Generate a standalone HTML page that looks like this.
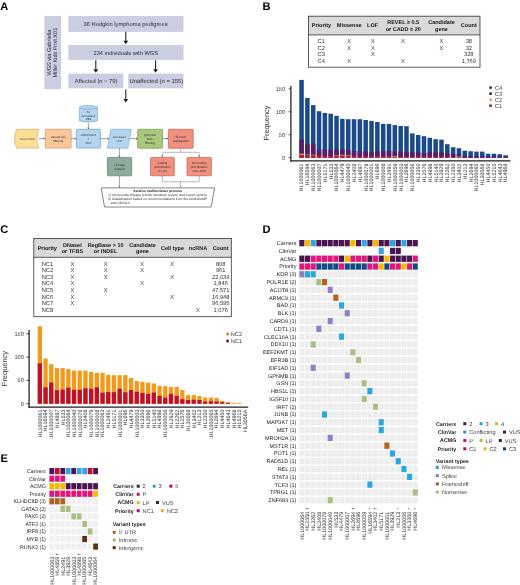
<!DOCTYPE html>
<html><head><meta charset="utf-8"><style>
html,body{margin:0;padding:0;background:#fff;}
body{width:520px;height:585px;overflow:hidden;}
svg{display:block;will-change:transform;font-family:"Liberation Sans", sans-serif;text-rendering:geometricPrecision;}
</style></head><body>
<svg width="520" height="585" viewBox="0 0 520 585">
<rect width="520" height="585" fill="#fff"/>
<text x="0.20" y="9.60" font-size="11.1" text-anchor="start" font-weight="bold" fill="#000">A</text>
<text x="262.40" y="9.80" font-size="11.1" text-anchor="start" font-weight="bold" fill="#000">B</text>
<text x="0.30" y="232.80" font-size="11.1" text-anchor="start" font-weight="bold" fill="#000">C</text>
<text x="262.60" y="232.80" font-size="11.1" text-anchor="start" font-weight="bold" fill="#000">D</text>
<text x="0.50" y="461.90" font-size="11.1" text-anchor="start" font-weight="bold" fill="#000">E</text>
<rect x="44.30" y="16.00" width="16.70" height="73.20" fill="#cbcde1"/>
<rect x="68.30" y="16.00" width="115.20" height="15.90" fill="#cbcde1"/>
<rect x="68.30" y="45.00" width="115.20" height="14.90" fill="#cbcde1"/>
<rect x="68.30" y="73.60" width="55.00" height="14.70" fill="#cbcde1"/>
<rect x="128.30" y="73.60" width="55.20" height="14.70" fill="#cbcde1"/>
<text x="125.60" y="25.90" font-size="5.75" text-anchor="middle" fill="#2a2a35">36 Hodgkin lymphoma pedigrees</text>
<text x="125.80" y="54.50" font-size="5.7" text-anchor="middle" fill="#2a2a35">234 individuals with WGS</text>
<text x="96.10" y="83.20" font-size="5.75" text-anchor="middle" fill="#2a2a35">Affected (n = 79)</text>
<text x="156.40" y="83.20" font-size="5.9" text-anchor="middle" fill="#2a2a35">Unaffected (n = 155)</text>
<text x="50.90" y="52.60" font-size="5.6" text-anchor="middle" fill="#2a2a35" transform="rotate(-90 50.9 52.6)">WGS via Gabriella</text>
<text x="56.60" y="52.60" font-size="5.6" text-anchor="middle" fill="#2a2a35" transform="rotate(-90 56.6 52.6)">Miller Kids First X01</text>
<line x1="125.80" y1="31.80" x2="125.80" y2="41.00" stroke="#1a1a1a" stroke-width="1.05"/>
<path d="M123.45 40.70 L128.15 40.70 L125.80 44.30 Z" fill="#1a1a1a"/>
<line x1="95.80" y1="60.20" x2="95.80" y2="69.50" stroke="#1a1a1a" stroke-width="1.05"/>
<path d="M93.45 69.20 L98.15 69.20 L95.80 72.80 Z" fill="#1a1a1a"/>
<line x1="155.60" y1="60.20" x2="155.60" y2="69.50" stroke="#1a1a1a" stroke-width="1.05"/>
<path d="M153.25 69.20 L157.95 69.20 L155.60 72.80 Z" fill="#1a1a1a"/>
<line x1="125.80" y1="89.60" x2="125.80" y2="99.30" stroke="#1a1a1a" stroke-width="1.05"/>
<path d="M123.45 99.00 L128.15 99.00 L125.80 102.60 Z" fill="#1a1a1a"/>
<path d="M16.6 129.3 L38.8 129.3 Q34.9 138.7 38.8 148.1 L16.6 148.1 Q12.4 138.7 16.6 129.3 Z" fill="#fcdf95" stroke="#b99a5a" stroke-width="0.55"/>
<text x="27.40" y="139.70" font-size="2.9" text-anchor="middle" fill="#3a3a3a">Cohort VCF</text>
<rect x="45.30" y="129.30" width="25.80" height="18.80" fill="#fbc899" stroke="#d5925a" stroke-width="0.7" rx="0.8"/>
<text x="58.20" y="137.85" font-size="3.1" text-anchor="middle" fill="#333">Variant QC</text>
<text x="58.20" y="141.72" font-size="3.1" text-anchor="middle" fill="#333">filtering</text>
<rect x="76.40" y="129.30" width="24.00" height="18.80" fill="#b4d4ef" stroke="#6e9cc6" stroke-width="0.7" rx="0.8"/>
<text x="88.40" y="135.91" font-size="3.1" text-anchor="middle" fill="#333">ANNOVAR</text>
<text x="88.40" y="139.78" font-size="3.1" text-anchor="middle" fill="#333">+</text>
<text x="88.40" y="143.66" font-size="3.1" text-anchor="middle" fill="#333">VEP</text>
<path d="M79.3 107.3 L79.3 120.8 Q88.4 123.8 97.5 120.8 L97.5 107.3" fill="#b4d4ef" stroke="#6e9cc6" stroke-width="0.55"/>
<ellipse cx="88.4" cy="107.3" rx="9.1" ry="1.9" fill="#b4d4ef" stroke="#6e9cc6" stroke-width="0.55"/>
<text x="88.40" y="112.90" font-size="2.9" text-anchor="middle" fill="#3a3a3a">52</text>
<text x="88.40" y="116.50" font-size="2.9" text-anchor="middle" fill="#3a3a3a">Annotation</text>
<text x="88.40" y="120.10" font-size="2.9" text-anchor="middle" fill="#3a3a3a">DBs</text>
<path d="M110.8 129.3 L131.3 129.3 L127.9 148.3 L107.4 148.3 Z" fill="#b4d4ef" stroke="#6e9cc6" stroke-width="0.55"/>
<text x="119.40" y="137.90" font-size="2.9" text-anchor="middle" fill="#3a3a3a">Annotated</text>
<text x="119.40" y="141.60" font-size="2.9" text-anchor="middle" fill="#3a3a3a">VCF</text>
<rect x="137.60" y="129.30" width="24.90" height="19.00" fill="#a9c77d" stroke="#789a4f" stroke-width="0.7" rx="0.8"/>
<text x="150.05" y="136.01" font-size="3.1" text-anchor="middle" fill="#333">gnomAD</text>
<text x="150.05" y="139.89" font-size="3.1" text-anchor="middle" fill="#333">MAF</text>
<text x="150.05" y="143.76" font-size="3.1" text-anchor="middle" fill="#333">filtering</text>
<rect x="168.40" y="129.30" width="24.80" height="19.00" fill="#f1907f" stroke="#c2604f" stroke-width="0.7" rx="0.8"/>
<text x="180.80" y="137.95" font-size="3.1" text-anchor="middle" fill="#333">SLIVAR</text>
<text x="180.80" y="141.82" font-size="3.1" text-anchor="middle" fill="#333">segregation</text>
<rect x="107.40" y="157.40" width="24.30" height="18.40" fill="#8eac9b" stroke="#5f7d6b" stroke-width="0.7" rx="0.8"/>
<text x="119.55" y="165.75" font-size="3.1" text-anchor="middle" fill="#2f3f35">Linkage</text>
<text x="119.55" y="169.62" font-size="3.1" text-anchor="middle" fill="#2f3f35">analysis</text>
<rect x="150.50" y="157.40" width="23.80" height="18.40" fill="#f1907f" stroke="#c2604f" stroke-width="0.7" rx="0.8"/>
<text x="162.40" y="163.81" font-size="3.1" text-anchor="middle" fill="#333">Coding</text>
<text x="162.40" y="167.69" font-size="3.1" text-anchor="middle" fill="#333">prioritization</text>
<text x="162.40" y="171.56" font-size="3.1" text-anchor="middle" fill="#333">C1-C4</text>
<rect x="187.00" y="157.40" width="24.40" height="18.40" fill="#f1907f" stroke="#c2604f" stroke-width="0.7" rx="0.8"/>
<text x="199.20" y="163.81" font-size="3.1" text-anchor="middle" fill="#333">Noncoding</text>
<text x="199.20" y="167.69" font-size="3.1" text-anchor="middle" fill="#333">prioritization</text>
<text x="199.20" y="171.56" font-size="3.1" text-anchor="middle" fill="#333">NC1-NC8</text>
<line x1="38.60" y1="138.70" x2="43.90" y2="138.70" stroke="#505060" stroke-width="0.6"/>
<path d="M43.70 137.60 L43.70 139.80 L45.30 138.70 Z" fill="#505060"/>
<line x1="71.10" y1="138.70" x2="75.00" y2="138.70" stroke="#505060" stroke-width="0.6"/>
<path d="M74.80 137.60 L74.80 139.80 L76.40 138.70 Z" fill="#505060"/>
<line x1="100.40" y1="138.70" x2="107.60" y2="138.70" stroke="#505060" stroke-width="0.6"/>
<path d="M107.40 137.60 L107.40 139.80 L109.00 138.70 Z" fill="#505060"/>
<line x1="129.60" y1="138.70" x2="136.20" y2="138.70" stroke="#505060" stroke-width="0.6"/>
<path d="M136.00 137.60 L136.00 139.80 L137.60 138.70 Z" fill="#505060"/>
<line x1="162.50" y1="138.70" x2="167.00" y2="138.70" stroke="#505060" stroke-width="0.6"/>
<path d="M166.80 137.60 L166.80 139.80 L168.40 138.70 Z" fill="#505060"/>
<line x1="88.40" y1="123.00" x2="88.40" y2="127.90" stroke="#505060" stroke-width="0.55"/>
<path d="M87.40 127.70 L89.40 127.70 L88.40 129.30 Z" fill="#505060"/>
<line x1="119.40" y1="148.30" x2="119.40" y2="156.00" stroke="#505060" stroke-width="0.55"/>
<path d="M118.40 155.80 L120.40 155.80 L119.40 157.40 Z" fill="#505060"/>
<line x1="180.80" y1="148.30" x2="180.80" y2="152.30" stroke="#7a7a90" stroke-width="0.55"/>
<path d="M162.3 157.2 L162.3 153.3 Q162.3 152.3 163.3 152.3 L198.2 152.3 Q199.2 152.3 199.2 153.3 L199.2 157.2" fill="none" stroke="#7a7a90" stroke-width="0.55"/>
<path d="M161.3 155.6 L163.3 155.6 L162.3 157.4 Z" fill="#7a7a90"/>
<path d="M198.2 155.6 L200.2 155.6 L199.2 157.4 Z" fill="#7a7a90"/>
<path d="M162.3 175.8 L162.3 180.8 Q162.3 181.8 163.3 181.8 L198.2 181.8 Q199.2 181.8 199.2 180.8 L199.2 175.8" fill="none" stroke="#7a7a90" stroke-width="0.55"/>
<line x1="180.60" y1="181.80" x2="180.60" y2="186.40" stroke="#7a7a90" stroke-width="0.55"/>
<path d="M179.60 186.20 L181.60 186.20 L180.60 187.80 Z" fill="#7a7a90"/>
<line x1="119.40" y1="175.80" x2="119.40" y2="186.40" stroke="#505060" stroke-width="0.55"/>
<path d="M118.40 186.20 L120.40 186.20 L119.40 187.80 Z" fill="#505060"/>
<path d="M101.2 187.9 L214.6 187.9 L211.2 207.0 L104.5 207.0 Z" fill="#fff" stroke="#444" stroke-width="0.65"/>
<text x="157.60" y="192.00" font-size="3.3" text-anchor="middle" font-weight="bold" fill="#222">Iterative multireviewer process</text>
<text x="108.00" y="196.00" font-size="3.4" text-anchor="start" fill="#333">1) Incorporate linkage results, literature review, and expert opinion</text>
<text x="108.00" y="200.20" font-size="3.4" text-anchor="start" fill="#333">2) Classification based on recommendations from the ACMG/AMP</text>
<text x="110.80" y="204.40" font-size="3.4" text-anchor="start" fill="#333">and ClinGen</text>
<rect x="308.50" y="16.20" width="171.50" height="18.70" fill="#d9d9d9"/>
<line x1="308.50" y1="34.90" x2="480.00" y2="34.90" stroke="#333" stroke-width="0.8"/>
<rect x="308.50" y="16.20" width="171.50" height="51.00" fill="none" stroke="#333" stroke-width="0.8"/>
<text x="321.40" y="27.35" font-size="5.5" text-anchor="middle" font-weight="bold" fill="#141414">Priority</text>
<text x="349.20" y="27.35" font-size="5.5" text-anchor="middle" font-weight="bold" fill="#141414">Missense</text>
<text x="372.60" y="27.35" font-size="5.5" text-anchor="middle" font-weight="bold" fill="#141414">LOF</text>
<text x="403.20" y="24.05" font-size="5.5" text-anchor="middle" font-weight="bold" fill="#141414">REVEL ≥ 0.5</text>
<text x="403.20" y="30.55" font-size="5.5" text-anchor="middle" font-weight="bold" fill="#141414">or CADD ≥ 20</text>
<text x="441.50" y="24.05" font-size="5.5" text-anchor="middle" font-weight="bold" fill="#141414">Candidate</text>
<text x="441.50" y="30.55" font-size="5.5" text-anchor="middle" font-weight="bold" fill="#141414">gene</text>
<text x="468.80" y="27.35" font-size="5.5" text-anchor="middle" font-weight="bold" fill="#141414">Count</text>
<text x="321.20" y="43.40" font-size="5.7" text-anchor="middle" fill="#333333">C1</text>
<text x="349.20" y="43.40" font-size="5.7" text-anchor="middle" fill="#333333">X</text>
<text x="373.00" y="43.40" font-size="5.7" text-anchor="middle" fill="#333333">X</text>
<text x="402.80" y="43.40" font-size="5.7" text-anchor="middle" fill="#333333">X</text>
<text x="441.30" y="43.40" font-size="5.7" text-anchor="middle" fill="#333333">X</text>
<text x="468.80" y="43.40" font-size="5.7" text-anchor="middle" fill="#333333">38</text>
<text x="321.20" y="49.80" font-size="5.7" text-anchor="middle" fill="#333333">C2</text>
<text x="349.20" y="49.80" font-size="5.7" text-anchor="middle" fill="#333333">X</text>
<text x="373.00" y="49.80" font-size="5.7" text-anchor="middle" fill="#333333">X</text>
<text x="441.30" y="49.80" font-size="5.7" text-anchor="middle" fill="#333333">X</text>
<text x="468.80" y="49.80" font-size="5.7" text-anchor="middle" fill="#333333">32</text>
<text x="321.20" y="56.20" font-size="5.7" text-anchor="middle" fill="#333333">C3</text>
<text x="373.00" y="56.20" font-size="5.7" text-anchor="middle" fill="#333333">X</text>
<text x="468.80" y="56.20" font-size="5.7" text-anchor="middle" fill="#333333">328</text>
<text x="321.20" y="62.60" font-size="5.7" text-anchor="middle" fill="#333333">C4</text>
<text x="349.20" y="62.60" font-size="5.7" text-anchor="middle" fill="#333333">X</text>
<text x="402.80" y="62.60" font-size="5.7" text-anchor="middle" fill="#333333">X</text>
<text x="468.80" y="62.60" font-size="5.7" text-anchor="middle" fill="#333333">1,769</text>
<line x1="290.90" y1="85.90" x2="290.90" y2="161.40" stroke="#1e1e1e" stroke-width="1.25"/>
<line x1="290.30" y1="160.80" x2="510.50" y2="160.80" stroke="#1e1e1e" stroke-width="1.25"/>
<line x1="288.50" y1="157.60" x2="290.90" y2="157.60" stroke="#1e1e1e" stroke-width="0.7"/>
<text x="285.00" y="159.60" font-size="5.6" text-anchor="end" fill="#3a3a3a">0</text>
<line x1="288.50" y1="134.70" x2="290.90" y2="134.70" stroke="#1e1e1e" stroke-width="0.7"/>
<text x="285.00" y="136.70" font-size="5.6" text-anchor="end" fill="#3a3a3a">50</text>
<line x1="288.50" y1="111.80" x2="290.90" y2="111.80" stroke="#1e1e1e" stroke-width="0.7"/>
<text x="285.00" y="113.80" font-size="5.6" text-anchor="end" fill="#3a3a3a">100</text>
<line x1="288.50" y1="88.90" x2="290.90" y2="88.90" stroke="#1e1e1e" stroke-width="0.7"/>
<text x="285.00" y="90.90" font-size="5.6" text-anchor="end" fill="#3a3a3a">150</text>
<text x="268.50" y="123.00" font-size="7.45" text-anchor="middle" fill="#333" transform="rotate(-90 268.5 123.0)">Frequency</text>
<rect x="299.30" y="79.90" width="4.50" height="77.90" fill="#1b4a8a"/>
<rect x="299.30" y="139.70" width="4.50" height="14.01" fill="#5b1b6b"/>
<rect x="299.30" y="153.70" width="4.50" height="1.40" fill="#f29a1e"/>
<rect x="299.30" y="155.10" width="4.50" height="2.70" fill="#c8102e"/>
<rect x="305.13" y="97.90" width="4.50" height="59.90" fill="#1b4a8a"/>
<rect x="305.13" y="144.40" width="4.50" height="10.21" fill="#5b1b6b"/>
<rect x="305.13" y="154.60" width="4.50" height="0.80" fill="#f29a1e"/>
<rect x="305.13" y="155.40" width="4.50" height="2.40" fill="#c8102e"/>
<rect x="310.96" y="105.10" width="4.50" height="52.70" fill="#1b4a8a"/>
<rect x="310.96" y="143.60" width="4.50" height="11.21" fill="#5b1b6b"/>
<rect x="310.96" y="154.80" width="4.50" height="0.80" fill="#f29a1e"/>
<rect x="310.96" y="155.60" width="4.50" height="2.20" fill="#c8102e"/>
<rect x="316.79" y="111.20" width="4.50" height="46.60" fill="#1b4a8a"/>
<rect x="316.79" y="149.60" width="4.50" height="5.81" fill="#5b1b6b"/>
<rect x="316.79" y="155.40" width="4.50" height="2.40" fill="#c8102e"/>
<rect x="322.62" y="113.00" width="4.50" height="44.80" fill="#1b4a8a"/>
<rect x="322.62" y="149.40" width="4.50" height="6.41" fill="#5b1b6b"/>
<rect x="322.62" y="155.80" width="4.50" height="2.00" fill="#c8102e"/>
<rect x="328.45" y="113.70" width="4.50" height="44.10" fill="#1b4a8a"/>
<rect x="328.45" y="149.80" width="4.50" height="6.21" fill="#5b1b6b"/>
<rect x="328.45" y="156.00" width="4.50" height="1.80" fill="#c8102e"/>
<rect x="334.28" y="115.80" width="4.50" height="42.00" fill="#1b4a8a"/>
<rect x="334.28" y="149.60" width="4.50" height="5.81" fill="#5b1b6b"/>
<rect x="334.28" y="155.40" width="4.50" height="0.60" fill="#f29a1e"/>
<rect x="334.28" y="156.00" width="4.50" height="1.80" fill="#c8102e"/>
<rect x="340.11" y="118.80" width="4.50" height="39.00" fill="#1b4a8a"/>
<rect x="340.11" y="149.60" width="4.50" height="5.21" fill="#5b1b6b"/>
<rect x="340.11" y="154.80" width="4.50" height="1.00" fill="#f29a1e"/>
<rect x="340.11" y="155.80" width="4.50" height="2.00" fill="#c8102e"/>
<rect x="345.94" y="119.20" width="4.50" height="38.60" fill="#1b4a8a"/>
<rect x="345.94" y="149.80" width="4.50" height="5.61" fill="#5b1b6b"/>
<rect x="345.94" y="155.40" width="4.50" height="0.80" fill="#f29a1e"/>
<rect x="345.94" y="156.20" width="4.50" height="1.60" fill="#c8102e"/>
<rect x="351.77" y="119.20" width="4.50" height="38.60" fill="#1b4a8a"/>
<rect x="351.77" y="151.20" width="4.50" height="5.01" fill="#5b1b6b"/>
<rect x="351.77" y="156.20" width="4.50" height="1.60" fill="#c8102e"/>
<rect x="357.60" y="119.20" width="4.50" height="38.60" fill="#1b4a8a"/>
<rect x="357.60" y="151.40" width="4.50" height="5.21" fill="#5b1b6b"/>
<rect x="357.60" y="156.60" width="4.50" height="1.20" fill="#c8102e"/>
<rect x="363.43" y="120.00" width="4.50" height="37.80" fill="#1b4a8a"/>
<rect x="363.43" y="151.20" width="4.50" height="5.21" fill="#5b1b6b"/>
<rect x="363.43" y="156.40" width="4.50" height="1.40" fill="#c8102e"/>
<rect x="369.26" y="120.90" width="4.50" height="36.90" fill="#1b4a8a"/>
<rect x="369.26" y="152.20" width="4.50" height="4.21" fill="#5b1b6b"/>
<rect x="369.26" y="156.40" width="4.50" height="1.40" fill="#c8102e"/>
<rect x="375.09" y="122.00" width="4.50" height="35.80" fill="#1b4a8a"/>
<rect x="375.09" y="151.20" width="4.50" height="5.21" fill="#5b1b6b"/>
<rect x="375.09" y="156.40" width="4.50" height="1.40" fill="#c8102e"/>
<rect x="380.92" y="123.90" width="4.50" height="33.90" fill="#1b4a8a"/>
<rect x="380.92" y="151.20" width="4.50" height="5.21" fill="#5b1b6b"/>
<rect x="380.92" y="156.40" width="4.50" height="1.40" fill="#c8102e"/>
<rect x="386.75" y="123.90" width="4.50" height="33.90" fill="#1b4a8a"/>
<rect x="386.75" y="150.80" width="4.50" height="5.61" fill="#5b1b6b"/>
<rect x="386.75" y="156.40" width="4.50" height="1.40" fill="#c8102e"/>
<rect x="392.58" y="125.10" width="4.50" height="32.70" fill="#1b4a8a"/>
<rect x="392.58" y="151.40" width="4.50" height="4.81" fill="#5b1b6b"/>
<rect x="392.58" y="156.20" width="4.50" height="1.00" fill="#f29a1e"/>
<rect x="392.58" y="157.20" width="4.50" height="0.60" fill="#c8102e"/>
<rect x="398.41" y="126.00" width="4.50" height="31.80" fill="#1b4a8a"/>
<rect x="398.41" y="151.60" width="4.50" height="5.01" fill="#5b1b6b"/>
<rect x="398.41" y="156.60" width="4.50" height="1.20" fill="#c8102e"/>
<rect x="404.24" y="126.20" width="4.50" height="31.60" fill="#1b4a8a"/>
<rect x="404.24" y="151.80" width="4.50" height="5.01" fill="#5b1b6b"/>
<rect x="404.24" y="156.80" width="4.50" height="1.00" fill="#c8102e"/>
<rect x="410.07" y="133.40" width="4.50" height="24.40" fill="#1b4a8a"/>
<rect x="410.07" y="152.20" width="4.50" height="4.61" fill="#5b1b6b"/>
<rect x="410.07" y="156.80" width="4.50" height="1.00" fill="#c8102e"/>
<rect x="415.90" y="135.00" width="4.50" height="22.80" fill="#1b4a8a"/>
<rect x="415.90" y="152.40" width="4.50" height="4.01" fill="#5b1b6b"/>
<rect x="415.90" y="156.40" width="4.50" height="1.40" fill="#c8102e"/>
<rect x="421.73" y="136.20" width="4.50" height="21.60" fill="#1b4a8a"/>
<rect x="421.73" y="153.00" width="4.50" height="3.61" fill="#5b1b6b"/>
<rect x="421.73" y="156.60" width="4.50" height="1.20" fill="#c8102e"/>
<rect x="427.56" y="137.80" width="4.50" height="20.00" fill="#1b4a8a"/>
<rect x="427.56" y="152.40" width="4.50" height="4.21" fill="#5b1b6b"/>
<rect x="427.56" y="156.60" width="4.50" height="1.20" fill="#c8102e"/>
<rect x="433.39" y="139.20" width="4.50" height="18.60" fill="#1b4a8a"/>
<rect x="433.39" y="152.40" width="4.50" height="4.21" fill="#5b1b6b"/>
<rect x="433.39" y="156.60" width="4.50" height="1.20" fill="#c8102e"/>
<rect x="439.22" y="139.60" width="4.50" height="18.20" fill="#1b4a8a"/>
<rect x="439.22" y="152.40" width="4.50" height="4.21" fill="#5b1b6b"/>
<rect x="439.22" y="156.60" width="4.50" height="1.20" fill="#c8102e"/>
<rect x="445.05" y="144.20" width="4.50" height="13.60" fill="#1b4a8a"/>
<rect x="445.05" y="153.40" width="4.50" height="3.41" fill="#5b1b6b"/>
<rect x="445.05" y="156.80" width="4.50" height="1.00" fill="#c8102e"/>
<rect x="450.88" y="147.20" width="4.50" height="10.60" fill="#1b4a8a"/>
<rect x="450.88" y="154.00" width="4.50" height="3.01" fill="#5b1b6b"/>
<rect x="450.88" y="157.00" width="4.50" height="0.80" fill="#c8102e"/>
<rect x="456.71" y="148.20" width="4.50" height="9.60" fill="#1b4a8a"/>
<rect x="456.71" y="154.00" width="4.50" height="2.61" fill="#5b1b6b"/>
<rect x="456.71" y="156.60" width="4.50" height="0.80" fill="#f29a1e"/>
<rect x="456.71" y="157.40" width="4.50" height="0.40" fill="#c8102e"/>
<rect x="462.54" y="150.70" width="4.50" height="7.10" fill="#1b4a8a"/>
<rect x="462.54" y="156.00" width="4.50" height="1.81" fill="#5b1b6b"/>
<rect x="468.37" y="151.20" width="4.50" height="6.60" fill="#1b4a8a"/>
<rect x="468.37" y="156.00" width="4.50" height="1.81" fill="#5b1b6b"/>
<rect x="474.20" y="151.60" width="4.50" height="6.20" fill="#1b4a8a"/>
<rect x="474.20" y="156.00" width="4.50" height="1.81" fill="#5b1b6b"/>
<rect x="480.03" y="151.60" width="4.50" height="6.20" fill="#1b4a8a"/>
<rect x="480.03" y="156.00" width="4.50" height="1.81" fill="#5b1b6b"/>
<rect x="485.86" y="153.70" width="4.50" height="4.10" fill="#1b4a8a"/>
<rect x="485.86" y="156.30" width="4.50" height="1.51" fill="#5b1b6b"/>
<rect x="491.69" y="153.70" width="4.50" height="4.10" fill="#1b4a8a"/>
<rect x="491.69" y="156.30" width="4.50" height="1.51" fill="#5b1b6b"/>
<rect x="497.52" y="154.20" width="4.50" height="3.60" fill="#1b4a8a"/>
<rect x="497.52" y="156.30" width="4.50" height="1.51" fill="#5b1b6b"/>
<rect x="503.35" y="155.30" width="4.50" height="2.50" fill="#1b4a8a"/>
<rect x="503.35" y="156.30" width="4.50" height="1.51" fill="#5b1b6b"/>
<text x="303.45" y="163.60" font-size="5.4" text-anchor="end" fill="#363636" transform="rotate(-90 303.45 163.6)">HL1000061</text>
<text x="309.28" y="163.60" font-size="5.4" text-anchor="end" fill="#363636" transform="rotate(-90 309.28 163.6)">HL16594</text>
<text x="315.11" y="163.60" font-size="5.4" text-anchor="end" fill="#363636" transform="rotate(-90 315.11 163.6)">HL1000063</text>
<text x="320.94" y="163.60" font-size="5.4" text-anchor="end" fill="#363636" transform="rotate(-90 320.94 163.6)">HL1000007</text>
<text x="326.77" y="163.60" font-size="5.4" text-anchor="end" fill="#363636" transform="rotate(-90 326.77 163.6)">HL5171</text>
<text x="332.60" y="163.60" font-size="5.4" text-anchor="end" fill="#363636" transform="rotate(-90 332.59999999999997 163.6)">HL533</text>
<text x="338.43" y="163.60" font-size="5.4" text-anchor="end" fill="#363636" transform="rotate(-90 338.43 163.6)">HL1000064</text>
<text x="344.26" y="163.60" font-size="5.4" text-anchor="end" fill="#363636" transform="rotate(-90 344.26 163.6)">HL4479</text>
<text x="350.09" y="163.60" font-size="5.4" text-anchor="end" fill="#363636" transform="rotate(-90 350.09 163.6)">HL1000040</text>
<text x="355.92" y="163.60" font-size="5.4" text-anchor="end" fill="#363636" transform="rotate(-90 355.91999999999996 163.6)">HL2408</text>
<text x="361.75" y="163.60" font-size="5.4" text-anchor="end" fill="#363636" transform="rotate(-90 361.75 163.6)">HL4897</text>
<text x="367.58" y="163.60" font-size="5.4" text-anchor="end" fill="#363636" transform="rotate(-90 367.58 163.6)">HL1000078</text>
<text x="373.41" y="163.60" font-size="5.4" text-anchor="end" fill="#363636" transform="rotate(-90 373.40999999999997 163.6)">HL1000001</text>
<text x="379.24" y="163.60" font-size="5.4" text-anchor="end" fill="#363636" transform="rotate(-90 379.24 163.6)">HL696</text>
<text x="385.07" y="163.60" font-size="5.4" text-anchor="end" fill="#363636" transform="rotate(-90 385.07 163.6)">HL1000008</text>
<text x="390.90" y="163.60" font-size="5.4" text-anchor="end" fill="#363636" transform="rotate(-90 390.9 163.6)">HL2491</text>
<text x="396.73" y="163.60" font-size="5.4" text-anchor="end" fill="#363636" transform="rotate(-90 396.73 163.6)">HL1000059</text>
<text x="402.56" y="163.60" font-size="5.4" text-anchor="end" fill="#363636" transform="rotate(-90 402.56 163.6)">HL1000003</text>
<text x="408.39" y="163.60" font-size="5.4" text-anchor="end" fill="#363636" transform="rotate(-90 408.39 163.6)">HL2696</text>
<text x="414.22" y="163.60" font-size="5.4" text-anchor="end" fill="#363636" transform="rotate(-90 414.21999999999997 163.6)">HL1000056</text>
<text x="420.05" y="163.60" font-size="5.4" text-anchor="end" fill="#363636" transform="rotate(-90 420.04999999999995 163.6)">HL3350</text>
<text x="425.88" y="163.60" font-size="5.4" text-anchor="end" fill="#363636" transform="rotate(-90 425.88 163.6)">HL2576</text>
<text x="431.71" y="163.60" font-size="5.4" text-anchor="end" fill="#363636" transform="rotate(-90 431.71 163.6)">HL4898</text>
<text x="437.54" y="163.60" font-size="5.4" text-anchor="end" fill="#363636" transform="rotate(-90 437.53999999999996 163.6)">HL5140</text>
<text x="443.37" y="163.60" font-size="5.4" text-anchor="end" fill="#363636" transform="rotate(-90 443.37 163.6)">HL3929</text>
<text x="449.20" y="163.60" font-size="5.4" text-anchor="end" fill="#363636" transform="rotate(-90 449.2 163.6)">HL2262</text>
<text x="455.03" y="163.60" font-size="5.4" text-anchor="end" fill="#363636" transform="rotate(-90 455.03 163.6)">HL2350</text>
<text x="460.86" y="163.60" font-size="5.4" text-anchor="end" fill="#363636" transform="rotate(-90 460.86 163.6)">HL3402</text>
<text x="466.69" y="163.60" font-size="5.4" text-anchor="end" fill="#363636" transform="rotate(-90 466.69 163.6)">HL213</text>
<text x="472.52" y="163.60" font-size="5.4" text-anchor="end" fill="#363636" transform="rotate(-90 472.52 163.6)">HL2694</text>
<text x="478.35" y="163.60" font-size="5.4" text-anchor="end" fill="#363636" transform="rotate(-90 478.35 163.6)">HL1000065</text>
<text x="484.18" y="163.60" font-size="5.4" text-anchor="end" fill="#363636" transform="rotate(-90 484.17999999999995 163.6)">HL30568</text>
<text x="490.01" y="163.60" font-size="5.4" text-anchor="end" fill="#363636" transform="rotate(-90 490.01 163.6)">HL4450</text>
<text x="495.84" y="163.60" font-size="5.4" text-anchor="end" fill="#363636" transform="rotate(-90 495.84000000000003 163.6)">HL5215</text>
<text x="501.67" y="163.60" font-size="5.4" text-anchor="end" fill="#363636" transform="rotate(-90 501.66999999999996 163.6)">HL4643</text>
<text x="507.50" y="163.60" font-size="5.4" text-anchor="end" fill="#363636" transform="rotate(-90 507.5 163.6)">HL4968</text>
<rect x="489.30" y="86.35" width="2.50" height="2.50" fill="#22365a"/>
<text x="494.80" y="89.60" font-size="5.7" text-anchor="start" fill="#3c3c3c">C4</text>
<rect x="489.30" y="92.40" width="2.50" height="2.50" fill="#33183f"/>
<text x="494.80" y="95.65" font-size="5.7" text-anchor="start" fill="#3c3c3c">C3</text>
<rect x="489.30" y="98.45" width="2.50" height="2.50" fill="#d8a068"/>
<text x="494.80" y="101.70" font-size="5.7" text-anchor="start" fill="#3c3c3c">C2</text>
<rect x="489.30" y="104.50" width="2.50" height="2.50" fill="#8a1828"/>
<text x="494.80" y="107.75" font-size="5.7" text-anchor="start" fill="#3c3c3c">C1</text>
<rect x="33.80" y="238.50" width="197.50" height="18.80" fill="#d9d9d9"/>
<line x1="33.80" y1="257.30" x2="231.30" y2="257.30" stroke="#333" stroke-width="0.8"/>
<rect x="33.80" y="238.50" width="197.50" height="78.20" fill="none" stroke="#333" stroke-width="0.8"/>
<text x="47.30" y="250.05" font-size="5.5" text-anchor="middle" font-weight="bold" fill="#141414">Priority</text>
<text x="72.40" y="246.95" font-size="5.5" text-anchor="middle" font-weight="bold" fill="#141414">DNaseI</text>
<text x="72.40" y="253.35" font-size="5.5" text-anchor="middle" font-weight="bold" fill="#141414">or TFBS</text>
<text x="105.60" y="246.95" font-size="5.5" text-anchor="middle" font-weight="bold" fill="#141414">RegBase &gt; 10</text>
<text x="105.60" y="253.35" font-size="5.5" text-anchor="middle" font-weight="bold" fill="#141414">or INDEL</text>
<text x="142.50" y="246.95" font-size="5.5" text-anchor="middle" font-weight="bold" fill="#141414">Candidate</text>
<text x="142.50" y="253.35" font-size="5.5" text-anchor="middle" font-weight="bold" fill="#141414">gene</text>
<text x="172.50" y="250.05" font-size="5.5" text-anchor="middle" font-weight="bold" fill="#141414">Cell type</text>
<text x="198.00" y="250.05" font-size="5.5" text-anchor="middle" font-weight="bold" fill="#141414">ncRNA</text>
<text x="220.60" y="250.05" font-size="5.5" text-anchor="middle" font-weight="bold" fill="#141414">Count</text>
<text x="47.40" y="265.60" font-size="5.7" text-anchor="middle" fill="#333333">NC1</text>
<text x="72.40" y="265.60" font-size="5.7" text-anchor="middle" fill="#333333">X</text>
<text x="105.60" y="265.60" font-size="5.7" text-anchor="middle" fill="#333333">X</text>
<text x="142.20" y="265.60" font-size="5.7" text-anchor="middle" fill="#333333">X</text>
<text x="172.20" y="265.60" font-size="5.7" text-anchor="middle" fill="#333333">X</text>
<text x="220.70" y="265.60" font-size="5.7" text-anchor="middle" fill="#333333">808</text>
<text x="47.40" y="272.20" font-size="5.7" text-anchor="middle" fill="#333333">NC2</text>
<text x="72.40" y="272.20" font-size="5.7" text-anchor="middle" fill="#333333">X</text>
<text x="105.60" y="272.20" font-size="5.7" text-anchor="middle" fill="#333333">X</text>
<text x="142.20" y="272.20" font-size="5.7" text-anchor="middle" fill="#333333">X</text>
<text x="220.70" y="272.20" font-size="5.7" text-anchor="middle" fill="#333333">961</text>
<text x="47.40" y="278.80" font-size="5.7" text-anchor="middle" fill="#333333">NC3</text>
<text x="72.40" y="278.80" font-size="5.7" text-anchor="middle" fill="#333333">X</text>
<text x="105.60" y="278.80" font-size="5.7" text-anchor="middle" fill="#333333">X</text>
<text x="172.20" y="278.80" font-size="5.7" text-anchor="middle" fill="#333333">X</text>
<text x="220.70" y="278.80" font-size="5.7" text-anchor="middle" fill="#333333">22,039</text>
<text x="47.40" y="285.40" font-size="5.7" text-anchor="middle" fill="#333333">NC4</text>
<text x="72.40" y="285.40" font-size="5.7" text-anchor="middle" fill="#333333">X</text>
<text x="142.20" y="285.40" font-size="5.7" text-anchor="middle" fill="#333333">X</text>
<text x="220.70" y="285.40" font-size="5.7" text-anchor="middle" fill="#333333">1,846</text>
<text x="47.40" y="292.00" font-size="5.7" text-anchor="middle" fill="#333333">NC5</text>
<text x="72.40" y="292.00" font-size="5.7" text-anchor="middle" fill="#333333">X</text>
<text x="105.60" y="292.00" font-size="5.7" text-anchor="middle" fill="#333333">X</text>
<text x="220.70" y="292.00" font-size="5.7" text-anchor="middle" fill="#333333">47,571</text>
<text x="47.40" y="298.60" font-size="5.7" text-anchor="middle" fill="#333333">NC6</text>
<text x="72.40" y="298.60" font-size="5.7" text-anchor="middle" fill="#333333">X</text>
<text x="172.20" y="298.60" font-size="5.7" text-anchor="middle" fill="#333333">X</text>
<text x="220.70" y="298.60" font-size="5.7" text-anchor="middle" fill="#333333">16,948</text>
<text x="47.40" y="305.20" font-size="5.7" text-anchor="middle" fill="#333333">NC7</text>
<text x="72.40" y="305.20" font-size="5.7" text-anchor="middle" fill="#333333">X</text>
<text x="220.70" y="305.20" font-size="5.7" text-anchor="middle" fill="#333333">96,595</text>
<text x="47.40" y="311.80" font-size="5.7" text-anchor="middle" fill="#333333">NC8</text>
<text x="198.00" y="311.80" font-size="5.7" text-anchor="middle" fill="#333333">X</text>
<text x="220.70" y="311.80" font-size="5.7" text-anchor="middle" fill="#333333">1,076</text>
<line x1="29.10" y1="330.00" x2="29.10" y2="407.70" stroke="#1e1e1e" stroke-width="1.25"/>
<line x1="28.50" y1="407.05" x2="248.20" y2="407.05" stroke="#1e1e1e" stroke-width="1.25"/>
<line x1="26.30" y1="403.70" x2="29.10" y2="403.70" stroke="#1e1e1e" stroke-width="0.8"/>
<text x="23.80" y="405.70" font-size="5.6" text-anchor="end" fill="#3a3a3a">0</text>
<line x1="26.30" y1="380.40" x2="29.10" y2="380.40" stroke="#1e1e1e" stroke-width="0.8"/>
<text x="23.80" y="382.40" font-size="5.6" text-anchor="end" fill="#3a3a3a">50</text>
<line x1="26.30" y1="357.10" x2="29.10" y2="357.10" stroke="#1e1e1e" stroke-width="0.8"/>
<text x="23.80" y="359.10" font-size="5.6" text-anchor="end" fill="#3a3a3a">100</text>
<line x1="26.30" y1="333.80" x2="29.10" y2="333.80" stroke="#1e1e1e" stroke-width="0.8"/>
<text x="23.80" y="335.80" font-size="5.6" text-anchor="end" fill="#3a3a3a">150</text>
<text x="7.20" y="368.60" font-size="7.45" text-anchor="middle" fill="#333" transform="rotate(-90 7.2 368.6)">Frequency</text>
<rect x="37.70" y="326.30" width="4.30" height="77.50" fill="#f39a1b"/>
<rect x="37.70" y="363.30" width="4.30" height="40.50" fill="#c0102c"/>
<rect x="43.40" y="358.50" width="4.30" height="45.30" fill="#f39a1b"/>
<rect x="43.40" y="387.30" width="4.30" height="16.50" fill="#c0102c"/>
<rect x="49.10" y="364.20" width="4.30" height="39.60" fill="#f39a1b"/>
<rect x="49.10" y="382.50" width="4.30" height="21.30" fill="#c0102c"/>
<rect x="54.80" y="368.10" width="4.30" height="35.70" fill="#f39a1b"/>
<rect x="54.80" y="390.20" width="4.30" height="13.60" fill="#c0102c"/>
<rect x="60.50" y="368.10" width="4.30" height="35.70" fill="#f39a1b"/>
<rect x="60.50" y="389.60" width="4.30" height="14.20" fill="#c0102c"/>
<rect x="66.20" y="369.00" width="4.30" height="34.80" fill="#f39a1b"/>
<rect x="66.20" y="387.70" width="4.30" height="16.10" fill="#c0102c"/>
<rect x="71.90" y="370.60" width="4.30" height="33.20" fill="#f39a1b"/>
<rect x="71.90" y="389.80" width="4.30" height="14.00" fill="#c0102c"/>
<rect x="77.60" y="370.60" width="4.30" height="33.20" fill="#f39a1b"/>
<rect x="77.60" y="389.80" width="4.30" height="14.00" fill="#c0102c"/>
<rect x="83.30" y="370.60" width="4.30" height="33.20" fill="#f39a1b"/>
<rect x="83.30" y="388.30" width="4.30" height="15.50" fill="#c0102c"/>
<rect x="89.00" y="371.90" width="4.30" height="31.90" fill="#f39a1b"/>
<rect x="89.00" y="388.80" width="4.30" height="15.00" fill="#c0102c"/>
<rect x="94.70" y="372.90" width="4.30" height="30.90" fill="#f39a1b"/>
<rect x="94.70" y="387.30" width="4.30" height="16.50" fill="#c0102c"/>
<rect x="100.40" y="372.90" width="4.30" height="30.90" fill="#f39a1b"/>
<rect x="100.40" y="392.70" width="4.30" height="11.10" fill="#c0102c"/>
<rect x="106.10" y="374.80" width="4.30" height="29.00" fill="#f39a1b"/>
<rect x="106.10" y="392.10" width="4.30" height="11.70" fill="#c0102c"/>
<rect x="111.80" y="375.20" width="4.30" height="28.60" fill="#f39a1b"/>
<rect x="111.80" y="392.10" width="4.30" height="11.70" fill="#c0102c"/>
<rect x="117.50" y="375.20" width="4.30" height="28.60" fill="#f39a1b"/>
<rect x="117.50" y="388.70" width="4.30" height="15.10" fill="#c0102c"/>
<rect x="123.20" y="375.10" width="4.30" height="28.70" fill="#f39a1b"/>
<rect x="123.20" y="392.30" width="4.30" height="11.50" fill="#c0102c"/>
<rect x="128.90" y="378.00" width="4.30" height="25.80" fill="#f39a1b"/>
<rect x="128.90" y="390.00" width="4.30" height="13.80" fill="#c0102c"/>
<rect x="134.60" y="381.10" width="4.30" height="22.70" fill="#f39a1b"/>
<rect x="134.60" y="391.80" width="4.30" height="12.00" fill="#c0102c"/>
<rect x="140.30" y="381.80" width="4.30" height="22.00" fill="#f39a1b"/>
<rect x="140.30" y="392.90" width="4.30" height="10.90" fill="#c0102c"/>
<rect x="146.00" y="382.60" width="4.30" height="21.20" fill="#f39a1b"/>
<rect x="146.00" y="393.80" width="4.30" height="10.00" fill="#c0102c"/>
<rect x="151.70" y="383.50" width="4.30" height="20.30" fill="#f39a1b"/>
<rect x="151.70" y="392.60" width="4.30" height="11.20" fill="#c0102c"/>
<rect x="157.40" y="385.80" width="4.30" height="18.00" fill="#f39a1b"/>
<rect x="157.40" y="395.80" width="4.30" height="8.00" fill="#c0102c"/>
<rect x="163.10" y="386.20" width="4.30" height="17.60" fill="#f39a1b"/>
<rect x="163.10" y="397.70" width="4.30" height="6.10" fill="#c0102c"/>
<rect x="168.80" y="386.90" width="4.30" height="16.90" fill="#f39a1b"/>
<rect x="168.80" y="393.80" width="4.30" height="10.00" fill="#c0102c"/>
<rect x="174.50" y="386.90" width="4.30" height="16.90" fill="#f39a1b"/>
<rect x="174.50" y="395.80" width="4.30" height="8.00" fill="#c0102c"/>
<rect x="180.20" y="390.00" width="4.30" height="13.80" fill="#f39a1b"/>
<rect x="180.20" y="399.20" width="4.30" height="4.60" fill="#c0102c"/>
<rect x="185.90" y="395.10" width="4.30" height="8.70" fill="#f39a1b"/>
<rect x="185.90" y="400.00" width="4.30" height="3.80" fill="#c0102c"/>
<rect x="191.60" y="395.10" width="4.30" height="8.70" fill="#f39a1b"/>
<rect x="191.60" y="399.70" width="4.30" height="4.10" fill="#c0102c"/>
<rect x="197.30" y="396.00" width="4.30" height="7.80" fill="#f39a1b"/>
<rect x="197.30" y="400.00" width="4.30" height="3.80" fill="#c0102c"/>
<rect x="203.00" y="397.50" width="4.30" height="6.30" fill="#f39a1b"/>
<rect x="203.00" y="401.50" width="4.30" height="2.30" fill="#c0102c"/>
<rect x="208.70" y="397.50" width="4.30" height="6.30" fill="#f39a1b"/>
<rect x="208.70" y="401.30" width="4.30" height="2.50" fill="#c0102c"/>
<rect x="214.40" y="397.90" width="4.30" height="5.90" fill="#f39a1b"/>
<rect x="214.40" y="401.50" width="4.30" height="2.30" fill="#c0102c"/>
<rect x="220.10" y="400.90" width="4.30" height="2.90" fill="#f39a1b"/>
<rect x="220.10" y="402.20" width="4.30" height="1.60" fill="#c0102c"/>
<rect x="225.80" y="402.20" width="4.30" height="1.60" fill="#f39a1b"/>
<rect x="225.80" y="402.90" width="4.30" height="0.90" fill="#c0102c"/>
<rect x="231.50" y="402.90" width="4.30" height="0.90" fill="#f39a1b"/>
<rect x="237.20" y="402.90" width="4.30" height="0.90" fill="#f39a1b"/>
<text x="41.75" y="409.60" font-size="5.4" text-anchor="end" fill="#363636" transform="rotate(-90 41.75 409.6)">HL1000061</text>
<text x="47.45" y="409.60" font-size="5.4" text-anchor="end" fill="#363636" transform="rotate(-90 47.45 409.6)">HL16594</text>
<text x="53.15" y="409.60" font-size="5.4" text-anchor="end" fill="#363636" transform="rotate(-90 53.15 409.6)">HL1000007</text>
<text x="58.85" y="409.60" font-size="5.4" text-anchor="end" fill="#363636" transform="rotate(-90 58.85 409.6)">HL4897</text>
<text x="64.55" y="409.60" font-size="5.4" text-anchor="end" fill="#363636" transform="rotate(-90 64.55 409.6)">HL533</text>
<text x="70.25" y="409.60" font-size="5.4" text-anchor="end" fill="#363636" transform="rotate(-90 70.25000000000001 409.6)">HL1000064</text>
<text x="75.95" y="409.60" font-size="5.4" text-anchor="end" fill="#363636" transform="rotate(-90 75.95000000000002 409.6)">HL1000040</text>
<text x="81.65" y="409.60" font-size="5.4" text-anchor="end" fill="#363636" transform="rotate(-90 81.65 409.6)">HL1000078</text>
<text x="87.35" y="409.60" font-size="5.4" text-anchor="end" fill="#363636" transform="rotate(-90 87.35000000000002 409.6)">HL2408</text>
<text x="93.05" y="409.60" font-size="5.4" text-anchor="end" fill="#363636" transform="rotate(-90 93.05000000000001 409.6)">HL1000079</text>
<text x="98.75" y="409.60" font-size="5.4" text-anchor="end" fill="#363636" transform="rotate(-90 98.75000000000001 409.6)">HL1000008</text>
<text x="104.45" y="409.60" font-size="5.4" text-anchor="end" fill="#363636" transform="rotate(-90 104.45000000000002 409.6)">HL1000063</text>
<text x="110.15" y="409.60" font-size="5.4" text-anchor="end" fill="#363636" transform="rotate(-90 110.15000000000002 409.6)">HL2491</text>
<text x="115.85" y="409.60" font-size="5.4" text-anchor="end" fill="#363636" transform="rotate(-90 115.85000000000002 409.6)">HL5171</text>
<text x="121.55" y="409.60" font-size="5.4" text-anchor="end" fill="#363636" transform="rotate(-90 121.55000000000001 409.6)">HL1000001</text>
<text x="127.25" y="409.60" font-size="5.4" text-anchor="end" fill="#363636" transform="rotate(-90 127.25000000000001 409.6)">HL696</text>
<text x="132.95" y="409.60" font-size="5.4" text-anchor="end" fill="#363636" transform="rotate(-90 132.95000000000002 409.6)">HL4479</text>
<text x="138.65" y="409.60" font-size="5.4" text-anchor="end" fill="#363636" transform="rotate(-90 138.65000000000003 409.6)">HL1000003</text>
<text x="144.35" y="409.60" font-size="5.4" text-anchor="end" fill="#363636" transform="rotate(-90 144.35000000000002 409.6)">HL3350</text>
<text x="150.05" y="409.60" font-size="5.4" text-anchor="end" fill="#363636" transform="rotate(-90 150.05 409.6)">HL2696</text>
<text x="155.75" y="409.60" font-size="5.4" text-anchor="end" fill="#363636" transform="rotate(-90 155.75 409.6)">HL5140</text>
<text x="161.45" y="409.60" font-size="5.4" text-anchor="end" fill="#363636" transform="rotate(-90 161.45000000000002 409.6)">HL4898</text>
<text x="167.15" y="409.60" font-size="5.4" text-anchor="end" fill="#363636" transform="rotate(-90 167.15000000000003 409.6)">HL1000056</text>
<text x="172.85" y="409.60" font-size="5.4" text-anchor="end" fill="#363636" transform="rotate(-90 172.85000000000002 409.6)">HL3929</text>
<text x="178.55" y="409.60" font-size="5.4" text-anchor="end" fill="#363636" transform="rotate(-90 178.55 409.6)">HL2262</text>
<text x="184.25" y="409.60" font-size="5.4" text-anchor="end" fill="#363636" transform="rotate(-90 184.25 409.6)">HL2576</text>
<text x="189.95" y="409.60" font-size="5.4" text-anchor="end" fill="#363636" transform="rotate(-90 189.95000000000005 409.6)">HL30568</text>
<text x="195.65" y="409.60" font-size="5.4" text-anchor="end" fill="#363636" transform="rotate(-90 195.65000000000003 409.6)">HL3402</text>
<text x="201.35" y="409.60" font-size="5.4" text-anchor="end" fill="#363636" transform="rotate(-90 201.35000000000002 409.6)">HL213</text>
<text x="207.05" y="409.60" font-size="5.4" text-anchor="end" fill="#363636" transform="rotate(-90 207.05 409.6)">HL2350</text>
<text x="212.75" y="409.60" font-size="5.4" text-anchor="end" fill="#363636" transform="rotate(-90 212.75 409.6)">HL1000065</text>
<text x="218.45" y="409.60" font-size="5.4" text-anchor="end" fill="#363636" transform="rotate(-90 218.45000000000005 409.6)">HL2694</text>
<text x="224.15" y="409.60" font-size="5.4" text-anchor="end" fill="#363636" transform="rotate(-90 224.15000000000003 409.6)">HL4450</text>
<text x="229.85" y="409.60" font-size="5.4" text-anchor="end" fill="#363636" transform="rotate(-90 229.85000000000002 409.6)">HL4643</text>
<text x="235.55" y="409.60" font-size="5.4" text-anchor="end" fill="#363636" transform="rotate(-90 235.55 409.6)">HL4968</text>
<text x="241.25" y="409.60" font-size="5.4" text-anchor="end" fill="#363636" transform="rotate(-90 241.25 409.6)">HL5215</text>
<text x="246.95" y="409.60" font-size="5.4" text-anchor="end" fill="#363636" transform="rotate(-90 246.95000000000005 409.6)">HL3056A</text>
<rect x="226.30" y="332.70" width="2.60" height="2.60" fill="#b89040"/>
<text x="230.80" y="336.00" font-size="5.6" text-anchor="start" fill="#3a3a3a">NC2</text>
<rect x="226.30" y="339.70" width="2.60" height="2.60" fill="#6e1024"/>
<text x="230.80" y="343.00" font-size="5.6" text-anchor="start" fill="#3a3a3a">NC1</text>
<rect x="299.30" y="240.00" width="5.10" height="6.30" fill="#4a1450"/>
<rect x="304.97" y="240.00" width="5.10" height="6.30" fill="#f9b800"/>
<rect x="310.64" y="240.00" width="5.10" height="6.30" fill="#35a3e3"/>
<rect x="316.31" y="240.00" width="5.10" height="6.30" fill="#4a1450"/>
<rect x="321.98" y="240.00" width="5.10" height="6.30" fill="#4a1450"/>
<rect x="327.65" y="240.00" width="5.10" height="6.30" fill="#4a1450"/>
<rect x="333.32" y="240.00" width="5.10" height="6.30" fill="#4a1450"/>
<rect x="338.99" y="240.00" width="5.10" height="6.30" fill="#4a1450"/>
<rect x="344.66" y="240.00" width="5.10" height="6.30" fill="#4a1450"/>
<rect x="350.33" y="240.00" width="5.10" height="6.30" fill="#f9b800"/>
<rect x="356.00" y="240.00" width="5.10" height="6.30" fill="#4a1450"/>
<rect x="361.67" y="240.00" width="5.10" height="6.30" fill="#35a3e3"/>
<rect x="367.34" y="240.00" width="5.10" height="6.30" fill="#4a1450"/>
<rect x="373.01" y="240.00" width="5.10" height="6.30" fill="#f9b800"/>
<rect x="378.68" y="240.00" width="5.10" height="6.30" fill="#4a1450"/>
<rect x="384.35" y="240.00" width="5.10" height="6.30" fill="#4a1450"/>
<rect x="390.02" y="240.00" width="5.10" height="6.30" fill="#35a3e3"/>
<rect x="395.69" y="240.00" width="5.10" height="6.30" fill="#4a1450"/>
<rect x="401.36" y="240.00" width="5.10" height="6.30" fill="#35a3e3"/>
<rect x="407.03" y="240.00" width="5.10" height="6.30" fill="#4a1450"/>
<rect x="412.70" y="240.00" width="5.10" height="6.30" fill="#4a1450"/>
<rect x="378.68" y="247.79" width="5.10" height="6.30" fill="#35a3e3"/>
<rect x="390.02" y="247.79" width="5.10" height="6.30" fill="#4a1450"/>
<rect x="395.69" y="247.79" width="5.10" height="6.30" fill="#4a1450"/>
<rect x="299.30" y="255.58" width="5.10" height="6.30" fill="#4a1450"/>
<rect x="304.97" y="255.58" width="5.10" height="6.30" fill="#4a1450"/>
<rect x="310.64" y="255.58" width="5.10" height="6.30" fill="#e3147c"/>
<rect x="316.31" y="255.58" width="5.10" height="6.30" fill="#e3147c"/>
<rect x="321.98" y="255.58" width="5.10" height="6.30" fill="#e3147c"/>
<rect x="327.65" y="255.58" width="5.10" height="6.30" fill="#e3147c"/>
<rect x="333.32" y="255.58" width="5.10" height="6.30" fill="#e3147c"/>
<rect x="338.99" y="255.58" width="5.10" height="6.30" fill="#4a1450"/>
<rect x="344.66" y="255.58" width="5.10" height="6.30" fill="#f9b800"/>
<rect x="350.33" y="255.58" width="5.10" height="6.30" fill="#e3147c"/>
<rect x="356.00" y="255.58" width="5.10" height="6.30" fill="#e3147c"/>
<rect x="361.67" y="255.58" width="5.10" height="6.30" fill="#e3147c"/>
<rect x="367.34" y="255.58" width="5.10" height="6.30" fill="#4a1450"/>
<rect x="373.01" y="255.58" width="5.10" height="6.30" fill="#e3147c"/>
<rect x="378.68" y="255.58" width="5.10" height="6.30" fill="#4a1450"/>
<rect x="384.35" y="255.58" width="5.10" height="6.30" fill="#f9b800"/>
<rect x="390.02" y="255.58" width="5.10" height="6.30" fill="#4a1450"/>
<rect x="395.69" y="255.58" width="5.10" height="6.30" fill="#4a1450"/>
<rect x="401.36" y="255.58" width="5.10" height="6.30" fill="#4a1450"/>
<rect x="407.03" y="255.58" width="5.10" height="6.30" fill="#4a1450"/>
<rect x="412.70" y="255.58" width="5.10" height="6.30" fill="#e3147c"/>
<rect x="299.30" y="263.37" width="5.10" height="6.30" fill="#e3147c"/>
<rect x="304.97" y="263.37" width="5.10" height="6.30" fill="#e3147c"/>
<rect x="310.64" y="263.37" width="5.10" height="6.30" fill="#e3147c"/>
<rect x="316.31" y="263.37" width="5.10" height="6.30" fill="#114a85"/>
<rect x="321.98" y="263.37" width="5.10" height="6.30" fill="#114a85"/>
<rect x="327.65" y="263.37" width="5.10" height="6.30" fill="#114a85"/>
<rect x="333.32" y="263.37" width="5.10" height="6.30" fill="#114a85"/>
<rect x="338.99" y="263.37" width="5.10" height="6.30" fill="#e3147c"/>
<rect x="344.66" y="263.37" width="5.10" height="6.30" fill="#114a85"/>
<rect x="350.33" y="263.37" width="5.10" height="6.30" fill="#114a85"/>
<rect x="356.00" y="263.37" width="5.10" height="6.30" fill="#114a85"/>
<rect x="361.67" y="263.37" width="5.10" height="6.30" fill="#114a85"/>
<rect x="367.34" y="263.37" width="5.10" height="6.30" fill="#e3147c"/>
<rect x="373.01" y="263.37" width="5.10" height="6.30" fill="#e3147c"/>
<rect x="378.68" y="263.37" width="5.10" height="6.30" fill="#f9b800"/>
<rect x="384.35" y="263.37" width="5.10" height="6.30" fill="#114a85"/>
<rect x="390.02" y="263.37" width="5.10" height="6.30" fill="#e3147c"/>
<rect x="395.69" y="263.37" width="5.10" height="6.30" fill="#e3147c"/>
<rect x="401.36" y="263.37" width="5.10" height="6.30" fill="#f9b800"/>
<rect x="407.03" y="263.37" width="5.10" height="6.30" fill="#e3147c"/>
<rect x="412.70" y="263.37" width="5.10" height="6.30" fill="#114a85"/>
<rect x="299.30" y="271.16" width="5.10" height="6.30" fill="#8a82c2"/>
<rect x="304.97" y="271.16" width="5.10" height="6.30" fill="#2ca6e0"/>
<rect x="310.64" y="271.16" width="5.10" height="6.30" fill="#2ca6e0"/>
<rect x="316.31" y="271.16" width="5.10" height="6.30" fill="#ededed"/>
<rect x="321.98" y="271.16" width="5.10" height="6.30" fill="#ededed"/>
<rect x="327.65" y="271.16" width="5.10" height="6.30" fill="#ededed"/>
<rect x="333.32" y="271.16" width="5.10" height="6.30" fill="#ededed"/>
<rect x="338.99" y="271.16" width="5.10" height="6.30" fill="#ededed"/>
<rect x="344.66" y="271.16" width="5.10" height="6.30" fill="#ededed"/>
<rect x="350.33" y="271.16" width="5.10" height="6.30" fill="#ededed"/>
<rect x="356.00" y="271.16" width="5.10" height="6.30" fill="#ededed"/>
<rect x="361.67" y="271.16" width="5.10" height="6.30" fill="#ededed"/>
<rect x="367.34" y="271.16" width="5.10" height="6.30" fill="#ededed"/>
<rect x="373.01" y="271.16" width="5.10" height="6.30" fill="#ededed"/>
<rect x="378.68" y="271.16" width="5.10" height="6.30" fill="#ededed"/>
<rect x="384.35" y="271.16" width="5.10" height="6.30" fill="#ededed"/>
<rect x="390.02" y="271.16" width="5.10" height="6.30" fill="#ededed"/>
<rect x="395.69" y="271.16" width="5.10" height="6.30" fill="#ededed"/>
<rect x="401.36" y="271.16" width="5.10" height="6.30" fill="#ededed"/>
<rect x="407.03" y="271.16" width="5.10" height="6.30" fill="#ededed"/>
<rect x="412.70" y="271.16" width="5.10" height="6.30" fill="#ededed"/>
<rect x="299.30" y="278.95" width="5.10" height="6.30" fill="#ededed"/>
<rect x="304.97" y="278.95" width="5.10" height="6.30" fill="#ededed"/>
<rect x="310.64" y="278.95" width="5.10" height="6.30" fill="#ededed"/>
<rect x="316.31" y="278.95" width="5.10" height="6.30" fill="#a9bd86"/>
<rect x="321.98" y="278.95" width="5.10" height="6.30" fill="#b0621f"/>
<rect x="327.65" y="278.95" width="5.10" height="6.30" fill="#ededed"/>
<rect x="333.32" y="278.95" width="5.10" height="6.30" fill="#ededed"/>
<rect x="338.99" y="278.95" width="5.10" height="6.30" fill="#ededed"/>
<rect x="344.66" y="278.95" width="5.10" height="6.30" fill="#ededed"/>
<rect x="350.33" y="278.95" width="5.10" height="6.30" fill="#ededed"/>
<rect x="356.00" y="278.95" width="5.10" height="6.30" fill="#ededed"/>
<rect x="361.67" y="278.95" width="5.10" height="6.30" fill="#ededed"/>
<rect x="367.34" y="278.95" width="5.10" height="6.30" fill="#ededed"/>
<rect x="373.01" y="278.95" width="5.10" height="6.30" fill="#ededed"/>
<rect x="378.68" y="278.95" width="5.10" height="6.30" fill="#ededed"/>
<rect x="384.35" y="278.95" width="5.10" height="6.30" fill="#ededed"/>
<rect x="390.02" y="278.95" width="5.10" height="6.30" fill="#ededed"/>
<rect x="395.69" y="278.95" width="5.10" height="6.30" fill="#ededed"/>
<rect x="401.36" y="278.95" width="5.10" height="6.30" fill="#ededed"/>
<rect x="407.03" y="278.95" width="5.10" height="6.30" fill="#ededed"/>
<rect x="412.70" y="278.95" width="5.10" height="6.30" fill="#ededed"/>
<rect x="299.30" y="286.74" width="5.10" height="6.30" fill="#ededed"/>
<rect x="304.97" y="286.74" width="5.10" height="6.30" fill="#ededed"/>
<rect x="310.64" y="286.74" width="5.10" height="6.30" fill="#ededed"/>
<rect x="316.31" y="286.74" width="5.10" height="6.30" fill="#ededed"/>
<rect x="321.98" y="286.74" width="5.10" height="6.30" fill="#ededed"/>
<rect x="327.65" y="286.74" width="5.10" height="6.30" fill="#8a82c2"/>
<rect x="333.32" y="286.74" width="5.10" height="6.30" fill="#ededed"/>
<rect x="338.99" y="286.74" width="5.10" height="6.30" fill="#ededed"/>
<rect x="344.66" y="286.74" width="5.10" height="6.30" fill="#ededed"/>
<rect x="350.33" y="286.74" width="5.10" height="6.30" fill="#ededed"/>
<rect x="356.00" y="286.74" width="5.10" height="6.30" fill="#ededed"/>
<rect x="361.67" y="286.74" width="5.10" height="6.30" fill="#ededed"/>
<rect x="367.34" y="286.74" width="5.10" height="6.30" fill="#ededed"/>
<rect x="373.01" y="286.74" width="5.10" height="6.30" fill="#ededed"/>
<rect x="378.68" y="286.74" width="5.10" height="6.30" fill="#ededed"/>
<rect x="384.35" y="286.74" width="5.10" height="6.30" fill="#ededed"/>
<rect x="390.02" y="286.74" width="5.10" height="6.30" fill="#ededed"/>
<rect x="395.69" y="286.74" width="5.10" height="6.30" fill="#ededed"/>
<rect x="401.36" y="286.74" width="5.10" height="6.30" fill="#ededed"/>
<rect x="407.03" y="286.74" width="5.10" height="6.30" fill="#ededed"/>
<rect x="412.70" y="286.74" width="5.10" height="6.30" fill="#ededed"/>
<rect x="299.30" y="294.53" width="5.10" height="6.30" fill="#ededed"/>
<rect x="304.97" y="294.53" width="5.10" height="6.30" fill="#ededed"/>
<rect x="310.64" y="294.53" width="5.10" height="6.30" fill="#ededed"/>
<rect x="316.31" y="294.53" width="5.10" height="6.30" fill="#ededed"/>
<rect x="321.98" y="294.53" width="5.10" height="6.30" fill="#ededed"/>
<rect x="327.65" y="294.53" width="5.10" height="6.30" fill="#ededed"/>
<rect x="333.32" y="294.53" width="5.10" height="6.30" fill="#b0621f"/>
<rect x="338.99" y="294.53" width="5.10" height="6.30" fill="#ededed"/>
<rect x="344.66" y="294.53" width="5.10" height="6.30" fill="#ededed"/>
<rect x="350.33" y="294.53" width="5.10" height="6.30" fill="#ededed"/>
<rect x="356.00" y="294.53" width="5.10" height="6.30" fill="#ededed"/>
<rect x="361.67" y="294.53" width="5.10" height="6.30" fill="#ededed"/>
<rect x="367.34" y="294.53" width="5.10" height="6.30" fill="#ededed"/>
<rect x="373.01" y="294.53" width="5.10" height="6.30" fill="#ededed"/>
<rect x="378.68" y="294.53" width="5.10" height="6.30" fill="#ededed"/>
<rect x="384.35" y="294.53" width="5.10" height="6.30" fill="#ededed"/>
<rect x="390.02" y="294.53" width="5.10" height="6.30" fill="#ededed"/>
<rect x="395.69" y="294.53" width="5.10" height="6.30" fill="#ededed"/>
<rect x="401.36" y="294.53" width="5.10" height="6.30" fill="#ededed"/>
<rect x="407.03" y="294.53" width="5.10" height="6.30" fill="#ededed"/>
<rect x="412.70" y="294.53" width="5.10" height="6.30" fill="#ededed"/>
<rect x="299.30" y="302.32" width="5.10" height="6.30" fill="#ededed"/>
<rect x="304.97" y="302.32" width="5.10" height="6.30" fill="#ededed"/>
<rect x="310.64" y="302.32" width="5.10" height="6.30" fill="#ededed"/>
<rect x="316.31" y="302.32" width="5.10" height="6.30" fill="#ededed"/>
<rect x="321.98" y="302.32" width="5.10" height="6.30" fill="#ededed"/>
<rect x="327.65" y="302.32" width="5.10" height="6.30" fill="#ededed"/>
<rect x="333.32" y="302.32" width="5.10" height="6.30" fill="#ededed"/>
<rect x="338.99" y="302.32" width="5.10" height="6.30" fill="#2ca6e0"/>
<rect x="344.66" y="302.32" width="5.10" height="6.30" fill="#ededed"/>
<rect x="350.33" y="302.32" width="5.10" height="6.30" fill="#ededed"/>
<rect x="356.00" y="302.32" width="5.10" height="6.30" fill="#ededed"/>
<rect x="361.67" y="302.32" width="5.10" height="6.30" fill="#ededed"/>
<rect x="367.34" y="302.32" width="5.10" height="6.30" fill="#ededed"/>
<rect x="373.01" y="302.32" width="5.10" height="6.30" fill="#ededed"/>
<rect x="378.68" y="302.32" width="5.10" height="6.30" fill="#ededed"/>
<rect x="384.35" y="302.32" width="5.10" height="6.30" fill="#ededed"/>
<rect x="390.02" y="302.32" width="5.10" height="6.30" fill="#ededed"/>
<rect x="395.69" y="302.32" width="5.10" height="6.30" fill="#ededed"/>
<rect x="401.36" y="302.32" width="5.10" height="6.30" fill="#ededed"/>
<rect x="407.03" y="302.32" width="5.10" height="6.30" fill="#ededed"/>
<rect x="412.70" y="302.32" width="5.10" height="6.30" fill="#ededed"/>
<rect x="299.30" y="310.11" width="5.10" height="6.30" fill="#ededed"/>
<rect x="304.97" y="310.11" width="5.10" height="6.30" fill="#ededed"/>
<rect x="310.64" y="310.11" width="5.10" height="6.30" fill="#ededed"/>
<rect x="316.31" y="310.11" width="5.10" height="6.30" fill="#ededed"/>
<rect x="321.98" y="310.11" width="5.10" height="6.30" fill="#ededed"/>
<rect x="327.65" y="310.11" width="5.10" height="6.30" fill="#ededed"/>
<rect x="333.32" y="310.11" width="5.10" height="6.30" fill="#ededed"/>
<rect x="338.99" y="310.11" width="5.10" height="6.30" fill="#ededed"/>
<rect x="344.66" y="310.11" width="5.10" height="6.30" fill="#8a82c2"/>
<rect x="350.33" y="310.11" width="5.10" height="6.30" fill="#ededed"/>
<rect x="356.00" y="310.11" width="5.10" height="6.30" fill="#ededed"/>
<rect x="361.67" y="310.11" width="5.10" height="6.30" fill="#ededed"/>
<rect x="367.34" y="310.11" width="5.10" height="6.30" fill="#ededed"/>
<rect x="373.01" y="310.11" width="5.10" height="6.30" fill="#ededed"/>
<rect x="378.68" y="310.11" width="5.10" height="6.30" fill="#ededed"/>
<rect x="384.35" y="310.11" width="5.10" height="6.30" fill="#ededed"/>
<rect x="390.02" y="310.11" width="5.10" height="6.30" fill="#ededed"/>
<rect x="395.69" y="310.11" width="5.10" height="6.30" fill="#ededed"/>
<rect x="401.36" y="310.11" width="5.10" height="6.30" fill="#ededed"/>
<rect x="407.03" y="310.11" width="5.10" height="6.30" fill="#ededed"/>
<rect x="412.70" y="310.11" width="5.10" height="6.30" fill="#ededed"/>
<rect x="299.30" y="317.90" width="5.10" height="6.30" fill="#ededed"/>
<rect x="304.97" y="317.90" width="5.10" height="6.30" fill="#ededed"/>
<rect x="310.64" y="317.90" width="5.10" height="6.30" fill="#ededed"/>
<rect x="316.31" y="317.90" width="5.10" height="6.30" fill="#ededed"/>
<rect x="321.98" y="317.90" width="5.10" height="6.30" fill="#ededed"/>
<rect x="327.65" y="317.90" width="5.10" height="6.30" fill="#8a82c2"/>
<rect x="333.32" y="317.90" width="5.10" height="6.30" fill="#ededed"/>
<rect x="338.99" y="317.90" width="5.10" height="6.30" fill="#ededed"/>
<rect x="344.66" y="317.90" width="5.10" height="6.30" fill="#ededed"/>
<rect x="350.33" y="317.90" width="5.10" height="6.30" fill="#ededed"/>
<rect x="356.00" y="317.90" width="5.10" height="6.30" fill="#ededed"/>
<rect x="361.67" y="317.90" width="5.10" height="6.30" fill="#ededed"/>
<rect x="367.34" y="317.90" width="5.10" height="6.30" fill="#ededed"/>
<rect x="373.01" y="317.90" width="5.10" height="6.30" fill="#ededed"/>
<rect x="378.68" y="317.90" width="5.10" height="6.30" fill="#ededed"/>
<rect x="384.35" y="317.90" width="5.10" height="6.30" fill="#ededed"/>
<rect x="390.02" y="317.90" width="5.10" height="6.30" fill="#ededed"/>
<rect x="395.69" y="317.90" width="5.10" height="6.30" fill="#ededed"/>
<rect x="401.36" y="317.90" width="5.10" height="6.30" fill="#ededed"/>
<rect x="407.03" y="317.90" width="5.10" height="6.30" fill="#ededed"/>
<rect x="412.70" y="317.90" width="5.10" height="6.30" fill="#ededed"/>
<rect x="299.30" y="325.69" width="5.10" height="6.30" fill="#ededed"/>
<rect x="304.97" y="325.69" width="5.10" height="6.30" fill="#ededed"/>
<rect x="310.64" y="325.69" width="5.10" height="6.30" fill="#ededed"/>
<rect x="316.31" y="325.69" width="5.10" height="6.30" fill="#8a82c2"/>
<rect x="321.98" y="325.69" width="5.10" height="6.30" fill="#ededed"/>
<rect x="327.65" y="325.69" width="5.10" height="6.30" fill="#ededed"/>
<rect x="333.32" y="325.69" width="5.10" height="6.30" fill="#ededed"/>
<rect x="338.99" y="325.69" width="5.10" height="6.30" fill="#ededed"/>
<rect x="344.66" y="325.69" width="5.10" height="6.30" fill="#ededed"/>
<rect x="350.33" y="325.69" width="5.10" height="6.30" fill="#ededed"/>
<rect x="356.00" y="325.69" width="5.10" height="6.30" fill="#ededed"/>
<rect x="361.67" y="325.69" width="5.10" height="6.30" fill="#ededed"/>
<rect x="367.34" y="325.69" width="5.10" height="6.30" fill="#ededed"/>
<rect x="373.01" y="325.69" width="5.10" height="6.30" fill="#ededed"/>
<rect x="378.68" y="325.69" width="5.10" height="6.30" fill="#ededed"/>
<rect x="384.35" y="325.69" width="5.10" height="6.30" fill="#ededed"/>
<rect x="390.02" y="325.69" width="5.10" height="6.30" fill="#ededed"/>
<rect x="395.69" y="325.69" width="5.10" height="6.30" fill="#ededed"/>
<rect x="401.36" y="325.69" width="5.10" height="6.30" fill="#ededed"/>
<rect x="407.03" y="325.69" width="5.10" height="6.30" fill="#ededed"/>
<rect x="412.70" y="325.69" width="5.10" height="6.30" fill="#ededed"/>
<rect x="299.30" y="333.48" width="5.10" height="6.30" fill="#ededed"/>
<rect x="304.97" y="333.48" width="5.10" height="6.30" fill="#ededed"/>
<rect x="310.64" y="333.48" width="5.10" height="6.30" fill="#ededed"/>
<rect x="316.31" y="333.48" width="5.10" height="6.30" fill="#ededed"/>
<rect x="321.98" y="333.48" width="5.10" height="6.30" fill="#ededed"/>
<rect x="327.65" y="333.48" width="5.10" height="6.30" fill="#ededed"/>
<rect x="333.32" y="333.48" width="5.10" height="6.30" fill="#ededed"/>
<rect x="338.99" y="333.48" width="5.10" height="6.30" fill="#2ca6e0"/>
<rect x="344.66" y="333.48" width="5.10" height="6.30" fill="#ededed"/>
<rect x="350.33" y="333.48" width="5.10" height="6.30" fill="#ededed"/>
<rect x="356.00" y="333.48" width="5.10" height="6.30" fill="#ededed"/>
<rect x="361.67" y="333.48" width="5.10" height="6.30" fill="#ededed"/>
<rect x="367.34" y="333.48" width="5.10" height="6.30" fill="#ededed"/>
<rect x="373.01" y="333.48" width="5.10" height="6.30" fill="#ededed"/>
<rect x="378.68" y="333.48" width="5.10" height="6.30" fill="#ededed"/>
<rect x="384.35" y="333.48" width="5.10" height="6.30" fill="#ededed"/>
<rect x="390.02" y="333.48" width="5.10" height="6.30" fill="#ededed"/>
<rect x="395.69" y="333.48" width="5.10" height="6.30" fill="#ededed"/>
<rect x="401.36" y="333.48" width="5.10" height="6.30" fill="#ededed"/>
<rect x="407.03" y="333.48" width="5.10" height="6.30" fill="#ededed"/>
<rect x="412.70" y="333.48" width="5.10" height="6.30" fill="#ededed"/>
<rect x="299.30" y="341.27" width="5.10" height="6.30" fill="#ededed"/>
<rect x="304.97" y="341.27" width="5.10" height="6.30" fill="#ededed"/>
<rect x="310.64" y="341.27" width="5.10" height="6.30" fill="#a9bd86"/>
<rect x="316.31" y="341.27" width="5.10" height="6.30" fill="#ededed"/>
<rect x="321.98" y="341.27" width="5.10" height="6.30" fill="#ededed"/>
<rect x="327.65" y="341.27" width="5.10" height="6.30" fill="#ededed"/>
<rect x="333.32" y="341.27" width="5.10" height="6.30" fill="#ededed"/>
<rect x="338.99" y="341.27" width="5.10" height="6.30" fill="#ededed"/>
<rect x="344.66" y="341.27" width="5.10" height="6.30" fill="#ededed"/>
<rect x="350.33" y="341.27" width="5.10" height="6.30" fill="#ededed"/>
<rect x="356.00" y="341.27" width="5.10" height="6.30" fill="#ededed"/>
<rect x="361.67" y="341.27" width="5.10" height="6.30" fill="#ededed"/>
<rect x="367.34" y="341.27" width="5.10" height="6.30" fill="#ededed"/>
<rect x="373.01" y="341.27" width="5.10" height="6.30" fill="#ededed"/>
<rect x="378.68" y="341.27" width="5.10" height="6.30" fill="#ededed"/>
<rect x="384.35" y="341.27" width="5.10" height="6.30" fill="#ededed"/>
<rect x="390.02" y="341.27" width="5.10" height="6.30" fill="#ededed"/>
<rect x="395.69" y="341.27" width="5.10" height="6.30" fill="#ededed"/>
<rect x="401.36" y="341.27" width="5.10" height="6.30" fill="#ededed"/>
<rect x="407.03" y="341.27" width="5.10" height="6.30" fill="#ededed"/>
<rect x="412.70" y="341.27" width="5.10" height="6.30" fill="#ededed"/>
<rect x="299.30" y="349.06" width="5.10" height="6.30" fill="#ededed"/>
<rect x="304.97" y="349.06" width="5.10" height="6.30" fill="#ededed"/>
<rect x="310.64" y="349.06" width="5.10" height="6.30" fill="#ededed"/>
<rect x="316.31" y="349.06" width="5.10" height="6.30" fill="#ededed"/>
<rect x="321.98" y="349.06" width="5.10" height="6.30" fill="#ededed"/>
<rect x="327.65" y="349.06" width="5.10" height="6.30" fill="#ededed"/>
<rect x="333.32" y="349.06" width="5.10" height="6.30" fill="#ededed"/>
<rect x="338.99" y="349.06" width="5.10" height="6.30" fill="#ededed"/>
<rect x="344.66" y="349.06" width="5.10" height="6.30" fill="#ededed"/>
<rect x="350.33" y="349.06" width="5.10" height="6.30" fill="#a9bd86"/>
<rect x="356.00" y="349.06" width="5.10" height="6.30" fill="#ededed"/>
<rect x="361.67" y="349.06" width="5.10" height="6.30" fill="#ededed"/>
<rect x="367.34" y="349.06" width="5.10" height="6.30" fill="#ededed"/>
<rect x="373.01" y="349.06" width="5.10" height="6.30" fill="#ededed"/>
<rect x="378.68" y="349.06" width="5.10" height="6.30" fill="#ededed"/>
<rect x="384.35" y="349.06" width="5.10" height="6.30" fill="#ededed"/>
<rect x="390.02" y="349.06" width="5.10" height="6.30" fill="#ededed"/>
<rect x="395.69" y="349.06" width="5.10" height="6.30" fill="#ededed"/>
<rect x="401.36" y="349.06" width="5.10" height="6.30" fill="#ededed"/>
<rect x="407.03" y="349.06" width="5.10" height="6.30" fill="#ededed"/>
<rect x="412.70" y="349.06" width="5.10" height="6.30" fill="#ededed"/>
<rect x="299.30" y="356.85" width="5.10" height="6.30" fill="#ededed"/>
<rect x="304.97" y="356.85" width="5.10" height="6.30" fill="#ededed"/>
<rect x="310.64" y="356.85" width="5.10" height="6.30" fill="#ededed"/>
<rect x="316.31" y="356.85" width="5.10" height="6.30" fill="#ededed"/>
<rect x="321.98" y="356.85" width="5.10" height="6.30" fill="#ededed"/>
<rect x="327.65" y="356.85" width="5.10" height="6.30" fill="#ededed"/>
<rect x="333.32" y="356.85" width="5.10" height="6.30" fill="#ededed"/>
<rect x="338.99" y="356.85" width="5.10" height="6.30" fill="#ededed"/>
<rect x="344.66" y="356.85" width="5.10" height="6.30" fill="#ededed"/>
<rect x="350.33" y="356.85" width="5.10" height="6.30" fill="#ededed"/>
<rect x="356.00" y="356.85" width="5.10" height="6.30" fill="#a9bd86"/>
<rect x="361.67" y="356.85" width="5.10" height="6.30" fill="#ededed"/>
<rect x="367.34" y="356.85" width="5.10" height="6.30" fill="#ededed"/>
<rect x="373.01" y="356.85" width="5.10" height="6.30" fill="#ededed"/>
<rect x="378.68" y="356.85" width="5.10" height="6.30" fill="#ededed"/>
<rect x="384.35" y="356.85" width="5.10" height="6.30" fill="#ededed"/>
<rect x="390.02" y="356.85" width="5.10" height="6.30" fill="#ededed"/>
<rect x="395.69" y="356.85" width="5.10" height="6.30" fill="#ededed"/>
<rect x="401.36" y="356.85" width="5.10" height="6.30" fill="#ededed"/>
<rect x="407.03" y="356.85" width="5.10" height="6.30" fill="#ededed"/>
<rect x="412.70" y="356.85" width="5.10" height="6.30" fill="#ededed"/>
<rect x="299.30" y="364.64" width="5.10" height="6.30" fill="#ededed"/>
<rect x="304.97" y="364.64" width="5.10" height="6.30" fill="#ededed"/>
<rect x="310.64" y="364.64" width="5.10" height="6.30" fill="#8a82c2"/>
<rect x="316.31" y="364.64" width="5.10" height="6.30" fill="#ededed"/>
<rect x="321.98" y="364.64" width="5.10" height="6.30" fill="#ededed"/>
<rect x="327.65" y="364.64" width="5.10" height="6.30" fill="#ededed"/>
<rect x="333.32" y="364.64" width="5.10" height="6.30" fill="#ededed"/>
<rect x="338.99" y="364.64" width="5.10" height="6.30" fill="#ededed"/>
<rect x="344.66" y="364.64" width="5.10" height="6.30" fill="#ededed"/>
<rect x="350.33" y="364.64" width="5.10" height="6.30" fill="#ededed"/>
<rect x="356.00" y="364.64" width="5.10" height="6.30" fill="#ededed"/>
<rect x="361.67" y="364.64" width="5.10" height="6.30" fill="#ededed"/>
<rect x="367.34" y="364.64" width="5.10" height="6.30" fill="#ededed"/>
<rect x="373.01" y="364.64" width="5.10" height="6.30" fill="#ededed"/>
<rect x="378.68" y="364.64" width="5.10" height="6.30" fill="#ededed"/>
<rect x="384.35" y="364.64" width="5.10" height="6.30" fill="#ededed"/>
<rect x="390.02" y="364.64" width="5.10" height="6.30" fill="#ededed"/>
<rect x="395.69" y="364.64" width="5.10" height="6.30" fill="#ededed"/>
<rect x="401.36" y="364.64" width="5.10" height="6.30" fill="#ededed"/>
<rect x="407.03" y="364.64" width="5.10" height="6.30" fill="#ededed"/>
<rect x="412.70" y="364.64" width="5.10" height="6.30" fill="#ededed"/>
<rect x="299.30" y="372.43" width="5.10" height="6.30" fill="#ededed"/>
<rect x="304.97" y="372.43" width="5.10" height="6.30" fill="#ededed"/>
<rect x="310.64" y="372.43" width="5.10" height="6.30" fill="#ededed"/>
<rect x="316.31" y="372.43" width="5.10" height="6.30" fill="#ededed"/>
<rect x="321.98" y="372.43" width="5.10" height="6.30" fill="#ededed"/>
<rect x="327.65" y="372.43" width="5.10" height="6.30" fill="#ededed"/>
<rect x="333.32" y="372.43" width="5.10" height="6.30" fill="#ededed"/>
<rect x="338.99" y="372.43" width="5.10" height="6.30" fill="#ededed"/>
<rect x="344.66" y="372.43" width="5.10" height="6.30" fill="#8a82c2"/>
<rect x="350.33" y="372.43" width="5.10" height="6.30" fill="#ededed"/>
<rect x="356.00" y="372.43" width="5.10" height="6.30" fill="#ededed"/>
<rect x="361.67" y="372.43" width="5.10" height="6.30" fill="#ededed"/>
<rect x="367.34" y="372.43" width="5.10" height="6.30" fill="#ededed"/>
<rect x="373.01" y="372.43" width="5.10" height="6.30" fill="#ededed"/>
<rect x="378.68" y="372.43" width="5.10" height="6.30" fill="#ededed"/>
<rect x="384.35" y="372.43" width="5.10" height="6.30" fill="#ededed"/>
<rect x="390.02" y="372.43" width="5.10" height="6.30" fill="#ededed"/>
<rect x="395.69" y="372.43" width="5.10" height="6.30" fill="#ededed"/>
<rect x="401.36" y="372.43" width="5.10" height="6.30" fill="#ededed"/>
<rect x="407.03" y="372.43" width="5.10" height="6.30" fill="#ededed"/>
<rect x="412.70" y="372.43" width="5.10" height="6.30" fill="#ededed"/>
<rect x="299.30" y="380.22" width="5.10" height="6.30" fill="#ededed"/>
<rect x="304.97" y="380.22" width="5.10" height="6.30" fill="#ededed"/>
<rect x="310.64" y="380.22" width="5.10" height="6.30" fill="#ededed"/>
<rect x="316.31" y="380.22" width="5.10" height="6.30" fill="#ededed"/>
<rect x="321.98" y="380.22" width="5.10" height="6.30" fill="#ededed"/>
<rect x="327.65" y="380.22" width="5.10" height="6.30" fill="#ededed"/>
<rect x="333.32" y="380.22" width="5.10" height="6.30" fill="#ededed"/>
<rect x="338.99" y="380.22" width="5.10" height="6.30" fill="#ededed"/>
<rect x="344.66" y="380.22" width="5.10" height="6.30" fill="#ededed"/>
<rect x="350.33" y="380.22" width="5.10" height="6.30" fill="#ededed"/>
<rect x="356.00" y="380.22" width="5.10" height="6.30" fill="#ededed"/>
<rect x="361.67" y="380.22" width="5.10" height="6.30" fill="#a9bd86"/>
<rect x="367.34" y="380.22" width="5.10" height="6.30" fill="#ededed"/>
<rect x="373.01" y="380.22" width="5.10" height="6.30" fill="#ededed"/>
<rect x="378.68" y="380.22" width="5.10" height="6.30" fill="#ededed"/>
<rect x="384.35" y="380.22" width="5.10" height="6.30" fill="#ededed"/>
<rect x="390.02" y="380.22" width="5.10" height="6.30" fill="#ededed"/>
<rect x="395.69" y="380.22" width="5.10" height="6.30" fill="#ededed"/>
<rect x="401.36" y="380.22" width="5.10" height="6.30" fill="#ededed"/>
<rect x="407.03" y="380.22" width="5.10" height="6.30" fill="#ededed"/>
<rect x="412.70" y="380.22" width="5.10" height="6.30" fill="#ededed"/>
<rect x="299.30" y="388.01" width="5.10" height="6.30" fill="#ededed"/>
<rect x="304.97" y="388.01" width="5.10" height="6.30" fill="#ededed"/>
<rect x="310.64" y="388.01" width="5.10" height="6.30" fill="#ededed"/>
<rect x="316.31" y="388.01" width="5.10" height="6.30" fill="#ededed"/>
<rect x="321.98" y="388.01" width="5.10" height="6.30" fill="#ededed"/>
<rect x="327.65" y="388.01" width="5.10" height="6.30" fill="#ededed"/>
<rect x="333.32" y="388.01" width="5.10" height="6.30" fill="#ededed"/>
<rect x="338.99" y="388.01" width="5.10" height="6.30" fill="#ededed"/>
<rect x="344.66" y="388.01" width="5.10" height="6.30" fill="#ededed"/>
<rect x="350.33" y="388.01" width="5.10" height="6.30" fill="#ededed"/>
<rect x="356.00" y="388.01" width="5.10" height="6.30" fill="#ededed"/>
<rect x="361.67" y="388.01" width="5.10" height="6.30" fill="#ededed"/>
<rect x="367.34" y="388.01" width="5.10" height="6.30" fill="#2ca6e0"/>
<rect x="373.01" y="388.01" width="5.10" height="6.30" fill="#ededed"/>
<rect x="378.68" y="388.01" width="5.10" height="6.30" fill="#ededed"/>
<rect x="384.35" y="388.01" width="5.10" height="6.30" fill="#ededed"/>
<rect x="390.02" y="388.01" width="5.10" height="6.30" fill="#ededed"/>
<rect x="395.69" y="388.01" width="5.10" height="6.30" fill="#ededed"/>
<rect x="401.36" y="388.01" width="5.10" height="6.30" fill="#ededed"/>
<rect x="407.03" y="388.01" width="5.10" height="6.30" fill="#ededed"/>
<rect x="412.70" y="388.01" width="5.10" height="6.30" fill="#ededed"/>
<rect x="299.30" y="395.80" width="5.10" height="6.30" fill="#ededed"/>
<rect x="304.97" y="395.80" width="5.10" height="6.30" fill="#ededed"/>
<rect x="310.64" y="395.80" width="5.10" height="6.30" fill="#ededed"/>
<rect x="316.31" y="395.80" width="5.10" height="6.30" fill="#ededed"/>
<rect x="321.98" y="395.80" width="5.10" height="6.30" fill="#ededed"/>
<rect x="327.65" y="395.80" width="5.10" height="6.30" fill="#ededed"/>
<rect x="333.32" y="395.80" width="5.10" height="6.30" fill="#ededed"/>
<rect x="338.99" y="395.80" width="5.10" height="6.30" fill="#ededed"/>
<rect x="344.66" y="395.80" width="5.10" height="6.30" fill="#ededed"/>
<rect x="350.33" y="395.80" width="5.10" height="6.30" fill="#ededed"/>
<rect x="356.00" y="395.80" width="5.10" height="6.30" fill="#ededed"/>
<rect x="361.67" y="395.80" width="5.10" height="6.30" fill="#a9bd86"/>
<rect x="367.34" y="395.80" width="5.10" height="6.30" fill="#ededed"/>
<rect x="373.01" y="395.80" width="5.10" height="6.30" fill="#ededed"/>
<rect x="378.68" y="395.80" width="5.10" height="6.30" fill="#ededed"/>
<rect x="384.35" y="395.80" width="5.10" height="6.30" fill="#ededed"/>
<rect x="390.02" y="395.80" width="5.10" height="6.30" fill="#ededed"/>
<rect x="395.69" y="395.80" width="5.10" height="6.30" fill="#ededed"/>
<rect x="401.36" y="395.80" width="5.10" height="6.30" fill="#ededed"/>
<rect x="407.03" y="395.80" width="5.10" height="6.30" fill="#ededed"/>
<rect x="412.70" y="395.80" width="5.10" height="6.30" fill="#ededed"/>
<rect x="299.30" y="403.59" width="5.10" height="6.30" fill="#ededed"/>
<rect x="304.97" y="403.59" width="5.10" height="6.30" fill="#ededed"/>
<rect x="310.64" y="403.59" width="5.10" height="6.30" fill="#ededed"/>
<rect x="316.31" y="403.59" width="5.10" height="6.30" fill="#ededed"/>
<rect x="321.98" y="403.59" width="5.10" height="6.30" fill="#ededed"/>
<rect x="327.65" y="403.59" width="5.10" height="6.30" fill="#ededed"/>
<rect x="333.32" y="403.59" width="5.10" height="6.30" fill="#ededed"/>
<rect x="338.99" y="403.59" width="5.10" height="6.30" fill="#ededed"/>
<rect x="344.66" y="403.59" width="5.10" height="6.30" fill="#ededed"/>
<rect x="350.33" y="403.59" width="5.10" height="6.30" fill="#ededed"/>
<rect x="356.00" y="403.59" width="5.10" height="6.30" fill="#ededed"/>
<rect x="361.67" y="403.59" width="5.10" height="6.30" fill="#ededed"/>
<rect x="367.34" y="403.59" width="5.10" height="6.30" fill="#ededed"/>
<rect x="373.01" y="403.59" width="5.10" height="6.30" fill="#a9bd86"/>
<rect x="378.68" y="403.59" width="5.10" height="6.30" fill="#ededed"/>
<rect x="384.35" y="403.59" width="5.10" height="6.30" fill="#ededed"/>
<rect x="390.02" y="403.59" width="5.10" height="6.30" fill="#ededed"/>
<rect x="395.69" y="403.59" width="5.10" height="6.30" fill="#ededed"/>
<rect x="401.36" y="403.59" width="5.10" height="6.30" fill="#ededed"/>
<rect x="407.03" y="403.59" width="5.10" height="6.30" fill="#ededed"/>
<rect x="412.70" y="403.59" width="5.10" height="6.30" fill="#ededed"/>
<rect x="299.30" y="411.38" width="5.10" height="6.30" fill="#ededed"/>
<rect x="304.97" y="411.38" width="5.10" height="6.30" fill="#ededed"/>
<rect x="310.64" y="411.38" width="5.10" height="6.30" fill="#ededed"/>
<rect x="316.31" y="411.38" width="5.10" height="6.30" fill="#ededed"/>
<rect x="321.98" y="411.38" width="5.10" height="6.30" fill="#2ca6e0"/>
<rect x="327.65" y="411.38" width="5.10" height="6.30" fill="#ededed"/>
<rect x="333.32" y="411.38" width="5.10" height="6.30" fill="#ededed"/>
<rect x="338.99" y="411.38" width="5.10" height="6.30" fill="#ededed"/>
<rect x="344.66" y="411.38" width="5.10" height="6.30" fill="#ededed"/>
<rect x="350.33" y="411.38" width="5.10" height="6.30" fill="#ededed"/>
<rect x="356.00" y="411.38" width="5.10" height="6.30" fill="#ededed"/>
<rect x="361.67" y="411.38" width="5.10" height="6.30" fill="#ededed"/>
<rect x="367.34" y="411.38" width="5.10" height="6.30" fill="#ededed"/>
<rect x="373.01" y="411.38" width="5.10" height="6.30" fill="#ededed"/>
<rect x="378.68" y="411.38" width="5.10" height="6.30" fill="#ededed"/>
<rect x="384.35" y="411.38" width="5.10" height="6.30" fill="#ededed"/>
<rect x="390.02" y="411.38" width="5.10" height="6.30" fill="#ededed"/>
<rect x="395.69" y="411.38" width="5.10" height="6.30" fill="#ededed"/>
<rect x="401.36" y="411.38" width="5.10" height="6.30" fill="#ededed"/>
<rect x="407.03" y="411.38" width="5.10" height="6.30" fill="#ededed"/>
<rect x="412.70" y="411.38" width="5.10" height="6.30" fill="#ededed"/>
<rect x="299.30" y="419.17" width="5.10" height="6.30" fill="#ededed"/>
<rect x="304.97" y="419.17" width="5.10" height="6.30" fill="#ededed"/>
<rect x="310.64" y="419.17" width="5.10" height="6.30" fill="#ededed"/>
<rect x="316.31" y="419.17" width="5.10" height="6.30" fill="#ededed"/>
<rect x="321.98" y="419.17" width="5.10" height="6.30" fill="#ededed"/>
<rect x="327.65" y="419.17" width="5.10" height="6.30" fill="#ededed"/>
<rect x="333.32" y="419.17" width="5.10" height="6.30" fill="#ededed"/>
<rect x="338.99" y="419.17" width="5.10" height="6.30" fill="#ededed"/>
<rect x="344.66" y="419.17" width="5.10" height="6.30" fill="#ededed"/>
<rect x="350.33" y="419.17" width="5.10" height="6.30" fill="#ededed"/>
<rect x="356.00" y="419.17" width="5.10" height="6.30" fill="#ededed"/>
<rect x="361.67" y="419.17" width="5.10" height="6.30" fill="#ededed"/>
<rect x="367.34" y="419.17" width="5.10" height="6.30" fill="#ededed"/>
<rect x="373.01" y="419.17" width="5.10" height="6.30" fill="#ededed"/>
<rect x="378.68" y="419.17" width="5.10" height="6.30" fill="#2ca6e0"/>
<rect x="384.35" y="419.17" width="5.10" height="6.30" fill="#ededed"/>
<rect x="390.02" y="419.17" width="5.10" height="6.30" fill="#ededed"/>
<rect x="395.69" y="419.17" width="5.10" height="6.30" fill="#ededed"/>
<rect x="401.36" y="419.17" width="5.10" height="6.30" fill="#ededed"/>
<rect x="407.03" y="419.17" width="5.10" height="6.30" fill="#ededed"/>
<rect x="412.70" y="419.17" width="5.10" height="6.30" fill="#ededed"/>
<rect x="299.30" y="426.96" width="5.10" height="6.30" fill="#ededed"/>
<rect x="304.97" y="426.96" width="5.10" height="6.30" fill="#ededed"/>
<rect x="310.64" y="426.96" width="5.10" height="6.30" fill="#ededed"/>
<rect x="316.31" y="426.96" width="5.10" height="6.30" fill="#ededed"/>
<rect x="321.98" y="426.96" width="5.10" height="6.30" fill="#ededed"/>
<rect x="327.65" y="426.96" width="5.10" height="6.30" fill="#ededed"/>
<rect x="333.32" y="426.96" width="5.10" height="6.30" fill="#ededed"/>
<rect x="338.99" y="426.96" width="5.10" height="6.30" fill="#ededed"/>
<rect x="344.66" y="426.96" width="5.10" height="6.30" fill="#ededed"/>
<rect x="350.33" y="426.96" width="5.10" height="6.30" fill="#ededed"/>
<rect x="356.00" y="426.96" width="5.10" height="6.30" fill="#ededed"/>
<rect x="361.67" y="426.96" width="5.10" height="6.30" fill="#ededed"/>
<rect x="367.34" y="426.96" width="5.10" height="6.30" fill="#ededed"/>
<rect x="373.01" y="426.96" width="5.10" height="6.30" fill="#ededed"/>
<rect x="378.68" y="426.96" width="5.10" height="6.30" fill="#2ca6e0"/>
<rect x="384.35" y="426.96" width="5.10" height="6.30" fill="#ededed"/>
<rect x="390.02" y="426.96" width="5.10" height="6.30" fill="#ededed"/>
<rect x="395.69" y="426.96" width="5.10" height="6.30" fill="#ededed"/>
<rect x="401.36" y="426.96" width="5.10" height="6.30" fill="#ededed"/>
<rect x="407.03" y="426.96" width="5.10" height="6.30" fill="#ededed"/>
<rect x="412.70" y="426.96" width="5.10" height="6.30" fill="#ededed"/>
<rect x="299.30" y="434.75" width="5.10" height="6.30" fill="#ededed"/>
<rect x="304.97" y="434.75" width="5.10" height="6.30" fill="#ededed"/>
<rect x="310.64" y="434.75" width="5.10" height="6.30" fill="#ededed"/>
<rect x="316.31" y="434.75" width="5.10" height="6.30" fill="#ededed"/>
<rect x="321.98" y="434.75" width="5.10" height="6.30" fill="#ededed"/>
<rect x="327.65" y="434.75" width="5.10" height="6.30" fill="#8a82c2"/>
<rect x="333.32" y="434.75" width="5.10" height="6.30" fill="#ededed"/>
<rect x="338.99" y="434.75" width="5.10" height="6.30" fill="#ededed"/>
<rect x="344.66" y="434.75" width="5.10" height="6.30" fill="#ededed"/>
<rect x="350.33" y="434.75" width="5.10" height="6.30" fill="#ededed"/>
<rect x="356.00" y="434.75" width="5.10" height="6.30" fill="#ededed"/>
<rect x="361.67" y="434.75" width="5.10" height="6.30" fill="#ededed"/>
<rect x="367.34" y="434.75" width="5.10" height="6.30" fill="#ededed"/>
<rect x="373.01" y="434.75" width="5.10" height="6.30" fill="#ededed"/>
<rect x="378.68" y="434.75" width="5.10" height="6.30" fill="#ededed"/>
<rect x="384.35" y="434.75" width="5.10" height="6.30" fill="#ededed"/>
<rect x="390.02" y="434.75" width="5.10" height="6.30" fill="#ededed"/>
<rect x="395.69" y="434.75" width="5.10" height="6.30" fill="#ededed"/>
<rect x="401.36" y="434.75" width="5.10" height="6.30" fill="#ededed"/>
<rect x="407.03" y="434.75" width="5.10" height="6.30" fill="#ededed"/>
<rect x="412.70" y="434.75" width="5.10" height="6.30" fill="#ededed"/>
<rect x="299.30" y="442.54" width="5.10" height="6.30" fill="#ededed"/>
<rect x="304.97" y="442.54" width="5.10" height="6.30" fill="#ededed"/>
<rect x="310.64" y="442.54" width="5.10" height="6.30" fill="#ededed"/>
<rect x="316.31" y="442.54" width="5.10" height="6.30" fill="#ededed"/>
<rect x="321.98" y="442.54" width="5.10" height="6.30" fill="#ededed"/>
<rect x="327.65" y="442.54" width="5.10" height="6.30" fill="#ededed"/>
<rect x="333.32" y="442.54" width="5.10" height="6.30" fill="#ededed"/>
<rect x="338.99" y="442.54" width="5.10" height="6.30" fill="#ededed"/>
<rect x="344.66" y="442.54" width="5.10" height="6.30" fill="#ededed"/>
<rect x="350.33" y="442.54" width="5.10" height="6.30" fill="#ededed"/>
<rect x="356.00" y="442.54" width="5.10" height="6.30" fill="#ededed"/>
<rect x="361.67" y="442.54" width="5.10" height="6.30" fill="#ededed"/>
<rect x="367.34" y="442.54" width="5.10" height="6.30" fill="#ededed"/>
<rect x="373.01" y="442.54" width="5.10" height="6.30" fill="#ededed"/>
<rect x="378.68" y="442.54" width="5.10" height="6.30" fill="#ededed"/>
<rect x="384.35" y="442.54" width="5.10" height="6.30" fill="#b0621f"/>
<rect x="390.02" y="442.54" width="5.10" height="6.30" fill="#ededed"/>
<rect x="395.69" y="442.54" width="5.10" height="6.30" fill="#ededed"/>
<rect x="401.36" y="442.54" width="5.10" height="6.30" fill="#ededed"/>
<rect x="407.03" y="442.54" width="5.10" height="6.30" fill="#ededed"/>
<rect x="412.70" y="442.54" width="5.10" height="6.30" fill="#ededed"/>
<rect x="299.30" y="450.33" width="5.10" height="6.30" fill="#ededed"/>
<rect x="304.97" y="450.33" width="5.10" height="6.30" fill="#ededed"/>
<rect x="310.64" y="450.33" width="5.10" height="6.30" fill="#ededed"/>
<rect x="316.31" y="450.33" width="5.10" height="6.30" fill="#ededed"/>
<rect x="321.98" y="450.33" width="5.10" height="6.30" fill="#ededed"/>
<rect x="327.65" y="450.33" width="5.10" height="6.30" fill="#ededed"/>
<rect x="333.32" y="450.33" width="5.10" height="6.30" fill="#ededed"/>
<rect x="338.99" y="450.33" width="5.10" height="6.30" fill="#ededed"/>
<rect x="344.66" y="450.33" width="5.10" height="6.30" fill="#ededed"/>
<rect x="350.33" y="450.33" width="5.10" height="6.30" fill="#ededed"/>
<rect x="356.00" y="450.33" width="5.10" height="6.30" fill="#ededed"/>
<rect x="361.67" y="450.33" width="5.10" height="6.30" fill="#ededed"/>
<rect x="367.34" y="450.33" width="5.10" height="6.30" fill="#ededed"/>
<rect x="373.01" y="450.33" width="5.10" height="6.30" fill="#ededed"/>
<rect x="378.68" y="450.33" width="5.10" height="6.30" fill="#ededed"/>
<rect x="384.35" y="450.33" width="5.10" height="6.30" fill="#ededed"/>
<rect x="390.02" y="450.33" width="5.10" height="6.30" fill="#2ca6e0"/>
<rect x="395.69" y="450.33" width="5.10" height="6.30" fill="#ededed"/>
<rect x="401.36" y="450.33" width="5.10" height="6.30" fill="#ededed"/>
<rect x="407.03" y="450.33" width="5.10" height="6.30" fill="#ededed"/>
<rect x="412.70" y="450.33" width="5.10" height="6.30" fill="#ededed"/>
<rect x="299.30" y="458.12" width="5.10" height="6.30" fill="#ededed"/>
<rect x="304.97" y="458.12" width="5.10" height="6.30" fill="#ededed"/>
<rect x="310.64" y="458.12" width="5.10" height="6.30" fill="#ededed"/>
<rect x="316.31" y="458.12" width="5.10" height="6.30" fill="#ededed"/>
<rect x="321.98" y="458.12" width="5.10" height="6.30" fill="#ededed"/>
<rect x="327.65" y="458.12" width="5.10" height="6.30" fill="#ededed"/>
<rect x="333.32" y="458.12" width="5.10" height="6.30" fill="#ededed"/>
<rect x="338.99" y="458.12" width="5.10" height="6.30" fill="#ededed"/>
<rect x="344.66" y="458.12" width="5.10" height="6.30" fill="#ededed"/>
<rect x="350.33" y="458.12" width="5.10" height="6.30" fill="#ededed"/>
<rect x="356.00" y="458.12" width="5.10" height="6.30" fill="#ededed"/>
<rect x="361.67" y="458.12" width="5.10" height="6.30" fill="#ededed"/>
<rect x="367.34" y="458.12" width="5.10" height="6.30" fill="#ededed"/>
<rect x="373.01" y="458.12" width="5.10" height="6.30" fill="#ededed"/>
<rect x="378.68" y="458.12" width="5.10" height="6.30" fill="#ededed"/>
<rect x="384.35" y="458.12" width="5.10" height="6.30" fill="#ededed"/>
<rect x="390.02" y="458.12" width="5.10" height="6.30" fill="#ededed"/>
<rect x="395.69" y="458.12" width="5.10" height="6.30" fill="#2ca6e0"/>
<rect x="401.36" y="458.12" width="5.10" height="6.30" fill="#ededed"/>
<rect x="407.03" y="458.12" width="5.10" height="6.30" fill="#ededed"/>
<rect x="412.70" y="458.12" width="5.10" height="6.30" fill="#ededed"/>
<rect x="299.30" y="465.91" width="5.10" height="6.30" fill="#ededed"/>
<rect x="304.97" y="465.91" width="5.10" height="6.30" fill="#ededed"/>
<rect x="310.64" y="465.91" width="5.10" height="6.30" fill="#ededed"/>
<rect x="316.31" y="465.91" width="5.10" height="6.30" fill="#ededed"/>
<rect x="321.98" y="465.91" width="5.10" height="6.30" fill="#ededed"/>
<rect x="327.65" y="465.91" width="5.10" height="6.30" fill="#ededed"/>
<rect x="333.32" y="465.91" width="5.10" height="6.30" fill="#ededed"/>
<rect x="338.99" y="465.91" width="5.10" height="6.30" fill="#ededed"/>
<rect x="344.66" y="465.91" width="5.10" height="6.30" fill="#ededed"/>
<rect x="350.33" y="465.91" width="5.10" height="6.30" fill="#ededed"/>
<rect x="356.00" y="465.91" width="5.10" height="6.30" fill="#ededed"/>
<rect x="361.67" y="465.91" width="5.10" height="6.30" fill="#ededed"/>
<rect x="367.34" y="465.91" width="5.10" height="6.30" fill="#ededed"/>
<rect x="373.01" y="465.91" width="5.10" height="6.30" fill="#ededed"/>
<rect x="378.68" y="465.91" width="5.10" height="6.30" fill="#ededed"/>
<rect x="384.35" y="465.91" width="5.10" height="6.30" fill="#ededed"/>
<rect x="390.02" y="465.91" width="5.10" height="6.30" fill="#ededed"/>
<rect x="395.69" y="465.91" width="5.10" height="6.30" fill="#ededed"/>
<rect x="401.36" y="465.91" width="5.10" height="6.30" fill="#2ca6e0"/>
<rect x="407.03" y="465.91" width="5.10" height="6.30" fill="#ededed"/>
<rect x="412.70" y="465.91" width="5.10" height="6.30" fill="#ededed"/>
<rect x="299.30" y="473.70" width="5.10" height="6.30" fill="#ededed"/>
<rect x="304.97" y="473.70" width="5.10" height="6.30" fill="#ededed"/>
<rect x="310.64" y="473.70" width="5.10" height="6.30" fill="#ededed"/>
<rect x="316.31" y="473.70" width="5.10" height="6.30" fill="#ededed"/>
<rect x="321.98" y="473.70" width="5.10" height="6.30" fill="#ededed"/>
<rect x="327.65" y="473.70" width="5.10" height="6.30" fill="#ededed"/>
<rect x="333.32" y="473.70" width="5.10" height="6.30" fill="#ededed"/>
<rect x="338.99" y="473.70" width="5.10" height="6.30" fill="#ededed"/>
<rect x="344.66" y="473.70" width="5.10" height="6.30" fill="#ededed"/>
<rect x="350.33" y="473.70" width="5.10" height="6.30" fill="#ededed"/>
<rect x="356.00" y="473.70" width="5.10" height="6.30" fill="#ededed"/>
<rect x="361.67" y="473.70" width="5.10" height="6.30" fill="#ededed"/>
<rect x="367.34" y="473.70" width="5.10" height="6.30" fill="#ededed"/>
<rect x="373.01" y="473.70" width="5.10" height="6.30" fill="#ededed"/>
<rect x="378.68" y="473.70" width="5.10" height="6.30" fill="#ededed"/>
<rect x="384.35" y="473.70" width="5.10" height="6.30" fill="#ededed"/>
<rect x="390.02" y="473.70" width="5.10" height="6.30" fill="#ededed"/>
<rect x="395.69" y="473.70" width="5.10" height="6.30" fill="#ededed"/>
<rect x="401.36" y="473.70" width="5.10" height="6.30" fill="#ededed"/>
<rect x="407.03" y="473.70" width="5.10" height="6.30" fill="#2ca6e0"/>
<rect x="412.70" y="473.70" width="5.10" height="6.30" fill="#ededed"/>
<rect x="299.30" y="481.49" width="5.10" height="6.30" fill="#ededed"/>
<rect x="304.97" y="481.49" width="5.10" height="6.30" fill="#ededed"/>
<rect x="310.64" y="481.49" width="5.10" height="6.30" fill="#ededed"/>
<rect x="316.31" y="481.49" width="5.10" height="6.30" fill="#ededed"/>
<rect x="321.98" y="481.49" width="5.10" height="6.30" fill="#ededed"/>
<rect x="327.65" y="481.49" width="5.10" height="6.30" fill="#ededed"/>
<rect x="333.32" y="481.49" width="5.10" height="6.30" fill="#ededed"/>
<rect x="338.99" y="481.49" width="5.10" height="6.30" fill="#ededed"/>
<rect x="344.66" y="481.49" width="5.10" height="6.30" fill="#ededed"/>
<rect x="350.33" y="481.49" width="5.10" height="6.30" fill="#ededed"/>
<rect x="356.00" y="481.49" width="5.10" height="6.30" fill="#ededed"/>
<rect x="361.67" y="481.49" width="5.10" height="6.30" fill="#ededed"/>
<rect x="367.34" y="481.49" width="5.10" height="6.30" fill="#2ca6e0"/>
<rect x="373.01" y="481.49" width="5.10" height="6.30" fill="#ededed"/>
<rect x="378.68" y="481.49" width="5.10" height="6.30" fill="#ededed"/>
<rect x="384.35" y="481.49" width="5.10" height="6.30" fill="#ededed"/>
<rect x="390.02" y="481.49" width="5.10" height="6.30" fill="#ededed"/>
<rect x="395.69" y="481.49" width="5.10" height="6.30" fill="#ededed"/>
<rect x="401.36" y="481.49" width="5.10" height="6.30" fill="#ededed"/>
<rect x="407.03" y="481.49" width="5.10" height="6.30" fill="#ededed"/>
<rect x="412.70" y="481.49" width="5.10" height="6.30" fill="#ededed"/>
<rect x="299.30" y="489.28" width="5.10" height="6.30" fill="#ededed"/>
<rect x="304.97" y="489.28" width="5.10" height="6.30" fill="#ededed"/>
<rect x="310.64" y="489.28" width="5.10" height="6.30" fill="#ededed"/>
<rect x="316.31" y="489.28" width="5.10" height="6.30" fill="#ededed"/>
<rect x="321.98" y="489.28" width="5.10" height="6.30" fill="#ededed"/>
<rect x="327.65" y="489.28" width="5.10" height="6.30" fill="#ededed"/>
<rect x="333.32" y="489.28" width="5.10" height="6.30" fill="#ededed"/>
<rect x="338.99" y="489.28" width="5.10" height="6.30" fill="#ededed"/>
<rect x="344.66" y="489.28" width="5.10" height="6.30" fill="#ededed"/>
<rect x="350.33" y="489.28" width="5.10" height="6.30" fill="#ededed"/>
<rect x="356.00" y="489.28" width="5.10" height="6.30" fill="#ededed"/>
<rect x="361.67" y="489.28" width="5.10" height="6.30" fill="#ededed"/>
<rect x="367.34" y="489.28" width="5.10" height="6.30" fill="#ededed"/>
<rect x="373.01" y="489.28" width="5.10" height="6.30" fill="#ededed"/>
<rect x="378.68" y="489.28" width="5.10" height="6.30" fill="#ededed"/>
<rect x="384.35" y="489.28" width="5.10" height="6.30" fill="#ededed"/>
<rect x="390.02" y="489.28" width="5.10" height="6.30" fill="#ededed"/>
<rect x="395.69" y="489.28" width="5.10" height="6.30" fill="#ededed"/>
<rect x="401.36" y="489.28" width="5.10" height="6.30" fill="#ededed"/>
<rect x="407.03" y="489.28" width="5.10" height="6.30" fill="#ededed"/>
<rect x="412.70" y="489.28" width="5.10" height="6.30" fill="#a9bd86"/>
<rect x="299.30" y="497.07" width="5.10" height="6.30" fill="#ededed"/>
<rect x="304.97" y="497.07" width="5.10" height="6.30" fill="#ededed"/>
<rect x="310.64" y="497.07" width="5.10" height="6.30" fill="#ededed"/>
<rect x="316.31" y="497.07" width="5.10" height="6.30" fill="#ededed"/>
<rect x="321.98" y="497.07" width="5.10" height="6.30" fill="#ededed"/>
<rect x="327.65" y="497.07" width="5.10" height="6.30" fill="#a9bd86"/>
<rect x="333.32" y="497.07" width="5.10" height="6.30" fill="#ededed"/>
<rect x="338.99" y="497.07" width="5.10" height="6.30" fill="#ededed"/>
<rect x="344.66" y="497.07" width="5.10" height="6.30" fill="#ededed"/>
<rect x="350.33" y="497.07" width="5.10" height="6.30" fill="#ededed"/>
<rect x="356.00" y="497.07" width="5.10" height="6.30" fill="#ededed"/>
<rect x="361.67" y="497.07" width="5.10" height="6.30" fill="#ededed"/>
<rect x="367.34" y="497.07" width="5.10" height="6.30" fill="#ededed"/>
<rect x="373.01" y="497.07" width="5.10" height="6.30" fill="#ededed"/>
<rect x="378.68" y="497.07" width="5.10" height="6.30" fill="#ededed"/>
<rect x="384.35" y="497.07" width="5.10" height="6.30" fill="#ededed"/>
<rect x="390.02" y="497.07" width="5.10" height="6.30" fill="#ededed"/>
<rect x="395.69" y="497.07" width="5.10" height="6.30" fill="#ededed"/>
<rect x="401.36" y="497.07" width="5.10" height="6.30" fill="#ededed"/>
<rect x="407.03" y="497.07" width="5.10" height="6.30" fill="#ededed"/>
<rect x="412.70" y="497.07" width="5.10" height="6.30" fill="#ededed"/>
<text x="296.40" y="245.10" font-size="5.5" text-anchor="end" fill="#1e1e1e">Carriers</text>
<text x="296.40" y="252.89" font-size="5.5" text-anchor="end" fill="#1e1e1e">ClinVar</text>
<text x="296.40" y="260.68" font-size="5.5" text-anchor="end" fill="#1e1e1e">ACMG</text>
<text x="296.40" y="268.47" font-size="5.5" text-anchor="end" fill="#1e1e1e">Priority</text>
<text x="296.40" y="276.26" font-size="5.5" text-anchor="end" fill="#1e1e1e">KDR (3)</text>
<text x="296.40" y="284.05" font-size="5.5" text-anchor="end" fill="#1e1e1e">POLR1E (2)</text>
<text x="296.40" y="291.84" font-size="5.5" text-anchor="end" fill="#1e1e1e">ACOT8 (1)</text>
<text x="296.40" y="299.63" font-size="5.5" text-anchor="end" fill="#1e1e1e">ARMC9 (1)</text>
<text x="296.40" y="307.42" font-size="5.5" text-anchor="end" fill="#1e1e1e">BAD (1)</text>
<text x="296.40" y="315.21" font-size="5.5" text-anchor="end" fill="#1e1e1e">BLK (1)</text>
<text x="296.40" y="323.00" font-size="5.5" text-anchor="end" fill="#1e1e1e">CARD9 (1)</text>
<text x="296.40" y="330.79" font-size="5.5" text-anchor="end" fill="#1e1e1e">CDT1 (1)</text>
<text x="296.40" y="338.58" font-size="5.5" text-anchor="end" fill="#1e1e1e">CLEC16A (1)</text>
<text x="296.40" y="346.37" font-size="5.5" text-anchor="end" fill="#1e1e1e">DDX10 (1)</text>
<text x="296.40" y="354.16" font-size="5.5" text-anchor="end" fill="#1e1e1e">EEF2KMT (1)</text>
<text x="296.40" y="361.95" font-size="5.5" text-anchor="end" fill="#1e1e1e">EFR3B (1)</text>
<text x="296.40" y="369.74" font-size="5.5" text-anchor="end" fill="#1e1e1e">EIF1AD (1)</text>
<text x="296.40" y="377.53" font-size="5.5" text-anchor="end" fill="#1e1e1e">GPNMB (1)</text>
<text x="296.40" y="385.32" font-size="5.5" text-anchor="end" fill="#1e1e1e">GSN (1)</text>
<text x="296.40" y="393.11" font-size="5.5" text-anchor="end" fill="#1e1e1e">HBS1L (1)</text>
<text x="296.40" y="400.90" font-size="5.5" text-anchor="end" fill="#1e1e1e">IGSF10 (1)</text>
<text x="296.40" y="408.69" font-size="5.5" text-anchor="end" fill="#1e1e1e">IRF7 (1)</text>
<text x="296.40" y="416.48" font-size="5.5" text-anchor="end" fill="#1e1e1e">JUNB (1)</text>
<text x="296.40" y="424.27" font-size="5.5" text-anchor="end" fill="#1e1e1e">MAP3K7 (1)</text>
<text x="296.40" y="432.06" font-size="5.5" text-anchor="end" fill="#1e1e1e">MET (1)</text>
<text x="296.40" y="439.85" font-size="5.5" text-anchor="end" fill="#1e1e1e">MROH2A (1)</text>
<text x="296.40" y="447.64" font-size="5.5" text-anchor="end" fill="#1e1e1e">MST1R (1)</text>
<text x="296.40" y="455.43" font-size="5.5" text-anchor="end" fill="#1e1e1e">POT1 (1)</text>
<text x="296.40" y="463.22" font-size="5.5" text-anchor="end" fill="#1e1e1e">RAD51D (1)</text>
<text x="296.40" y="471.01" font-size="5.5" text-anchor="end" fill="#1e1e1e">REL (1)</text>
<text x="296.40" y="478.80" font-size="5.5" text-anchor="end" fill="#1e1e1e">STAT3 (1)</text>
<text x="296.40" y="486.59" font-size="5.5" text-anchor="end" fill="#1e1e1e">TCF3 (1)</text>
<text x="296.40" y="494.38" font-size="5.5" text-anchor="end" fill="#1e1e1e">TPRG1 (1)</text>
<text x="296.40" y="502.17" font-size="5.5" text-anchor="end" fill="#1e1e1e">ZNF683 (1)</text>
<text x="303.70" y="511.60" font-size="5.45" text-anchor="end" fill="#363636" transform="rotate(-90 303.70000000000005 511.6)">HL1000064</text>
<text x="309.37" y="511.60" font-size="5.45" text-anchor="end" fill="#363636" transform="rotate(-90 309.37000000000006 511.6)">HL2350</text>
<text x="309.37" y="508.60" font-size="4.6" text-anchor="middle" fill="#333" transform="rotate(-90 309.37000000000006 508.6)">†</text>
<text x="315.04" y="511.60" font-size="5.45" text-anchor="end" fill="#363636" transform="rotate(-90 315.04 511.6)">HL3262</text>
<text x="320.71" y="511.60" font-size="5.45" text-anchor="end" fill="#363636" transform="rotate(-90 320.71000000000004 511.6)">HL2408</text>
<text x="326.38" y="511.60" font-size="5.45" text-anchor="end" fill="#363636" transform="rotate(-90 326.38000000000005 511.6)">HL1000078</text>
<text x="332.05" y="511.60" font-size="5.45" text-anchor="end" fill="#363636" transform="rotate(-90 332.05000000000007 511.6)">HL1000040</text>
<text x="337.72" y="511.60" font-size="5.45" text-anchor="end" fill="#363636" transform="rotate(-90 337.72 511.6)">HL533</text>
<text x="343.39" y="511.60" font-size="5.45" text-anchor="end" fill="#363636" transform="rotate(-90 343.39000000000004 511.6)">HL4479</text>
<text x="349.06" y="511.60" font-size="5.45" text-anchor="end" fill="#363636" transform="rotate(-90 349.06000000000006 511.6)">HL1000007</text>
<text x="354.73" y="511.60" font-size="5.45" text-anchor="end" fill="#363636" transform="rotate(-90 354.7300000000001 511.6)">HL2694</text>
<text x="354.73" y="508.60" font-size="4.6" text-anchor="middle" fill="#333" transform="rotate(-90 354.7300000000001 508.6)">†</text>
<text x="360.40" y="511.60" font-size="5.45" text-anchor="end" fill="#363636" transform="rotate(-90 360.40000000000003 511.6)">HL2696</text>
<text x="366.07" y="511.60" font-size="5.45" text-anchor="end" fill="#363636" transform="rotate(-90 366.07000000000005 511.6)">HL1000059</text>
<text x="371.74" y="511.60" font-size="5.45" text-anchor="end" fill="#363636" transform="rotate(-90 371.74000000000007 511.6)">HL16594</text>
<text x="371.74" y="508.60" font-size="4.6" text-anchor="middle" fill="#333" transform="rotate(-90 371.74000000000007 508.6)">*</text>
<text x="377.41" y="511.60" font-size="5.45" text-anchor="end" fill="#363636" transform="rotate(-90 377.41 511.6)">HL3402</text>
<text x="377.41" y="508.60" font-size="4.6" text-anchor="middle" fill="#333" transform="rotate(-90 377.41 508.6)">†</text>
<text x="383.08" y="511.60" font-size="5.45" text-anchor="end" fill="#363636" transform="rotate(-90 383.08000000000004 511.6)">HL5171</text>
<text x="388.75" y="511.60" font-size="5.45" text-anchor="end" fill="#363636" transform="rotate(-90 388.75000000000006 511.6)">HL1000001</text>
<text x="394.42" y="511.60" font-size="5.45" text-anchor="end" fill="#363636" transform="rotate(-90 394.42 511.6)">HL3929</text>
<text x="400.09" y="511.60" font-size="5.45" text-anchor="end" fill="#363636" transform="rotate(-90 400.09000000000003 511.6)">HL213</text>
<text x="400.09" y="508.60" font-size="4.6" text-anchor="middle" fill="#333" transform="rotate(-90 400.09000000000003 508.6)">*</text>
<text x="405.76" y="511.60" font-size="5.45" text-anchor="end" fill="#363636" transform="rotate(-90 405.76000000000005 511.6)">HL1000056</text>
<text x="411.43" y="511.60" font-size="5.45" text-anchor="end" fill="#363636" transform="rotate(-90 411.43000000000006 511.6)">HL3350</text>
<text x="411.43" y="508.60" font-size="4.6" text-anchor="middle" fill="#333" transform="rotate(-90 411.43000000000006 508.6)">*</text>
<text x="417.10" y="511.60" font-size="5.45" text-anchor="end" fill="#363636" transform="rotate(-90 417.1000000000001 511.6)">HL4696</text>
<text x="417.10" y="508.60" font-size="4.6" text-anchor="middle" fill="#333" transform="rotate(-90 417.1000000000001 508.6)">*</text>
<text x="456.30" y="425.60" font-size="5.3" text-anchor="end" font-weight="bold" fill="#222">Carriers</text>
<rect x="463.30" y="422.20" width="3.00" height="3.00" fill="#4a1a4a"/>
<text x="469.20" y="425.70" font-size="5.65" text-anchor="start" fill="#444">2</text>
<rect x="479.60" y="422.20" width="3.00" height="3.00" fill="#2d9ed6"/>
<text x="485.50" y="425.70" font-size="5.65" text-anchor="start" fill="#444">3</text>
<rect x="495.00" y="422.20" width="3.00" height="3.00" fill="#e8b020"/>
<text x="500.90" y="425.70" font-size="5.65" text-anchor="start" fill="#444">4</text>
<text x="456.30" y="434.00" font-size="5.3" text-anchor="end" font-weight="bold" fill="#222">ClinVar</text>
<rect x="463.30" y="430.60" width="3.00" height="3.00" fill="#2a9ac8"/>
<text x="469.20" y="434.10" font-size="5.65" text-anchor="start" fill="#444">Conflicting</text>
<rect x="503.00" y="430.60" width="3.00" height="3.00" fill="#3a1840"/>
<text x="508.90" y="434.10" font-size="5.65" text-anchor="start" fill="#444">VUS</text>
<text x="456.30" y="442.40" font-size="5.3" text-anchor="end" font-weight="bold" fill="#222">ACMG</text>
<rect x="463.30" y="439.00" width="3.00" height="3.00" fill="#c8106a"/>
<text x="469.20" y="442.50" font-size="5.65" text-anchor="start" fill="#444">P</text>
<rect x="479.60" y="439.00" width="3.00" height="3.00" fill="#e0b030"/>
<text x="485.50" y="442.50" font-size="5.65" text-anchor="start" fill="#444">LP</text>
<rect x="498.80" y="439.00" width="3.00" height="3.00" fill="#3a1840"/>
<text x="504.70" y="442.50" font-size="5.65" text-anchor="start" fill="#444">VUS</text>
<text x="456.30" y="450.70" font-size="5.3" text-anchor="end" font-weight="bold" fill="#222">Priority</text>
<rect x="463.30" y="447.30" width="3.00" height="3.00" fill="#b0105a"/>
<text x="469.20" y="450.80" font-size="5.65" text-anchor="start" fill="#444">C1</text>
<rect x="483.50" y="447.30" width="3.00" height="3.00" fill="#e0b030"/>
<text x="489.40" y="450.80" font-size="5.65" text-anchor="start" fill="#444">C2</text>
<rect x="503.00" y="447.30" width="3.00" height="3.00" fill="#163a66"/>
<text x="508.90" y="450.80" font-size="5.65" text-anchor="start" fill="#444">C3</text>
<text x="435.80" y="462.90" font-size="5.3" text-anchor="start" font-weight="bold" fill="#222">Variant types</text>
<rect x="435.80" y="465.90" width="3.00" height="3.00" fill="#2a9ad0"/>
<text x="441.90" y="469.40" font-size="5.65" text-anchor="start" fill="#444">Missense</text>
<rect x="435.80" y="474.15" width="3.00" height="3.00" fill="#7f7ab8"/>
<text x="441.90" y="477.65" font-size="5.65" text-anchor="start" fill="#444">Splice</text>
<rect x="435.80" y="482.40" width="3.00" height="3.00" fill="#9a5a20"/>
<text x="441.90" y="485.90" font-size="5.65" text-anchor="start" fill="#444">Frameshift</text>
<rect x="435.80" y="490.65" width="3.00" height="3.00" fill="#a0b880"/>
<text x="441.90" y="494.15" font-size="5.65" text-anchor="start" fill="#444">Nonsense</text>
<rect x="49.40" y="468.00" width="4.75" height="6.20" fill="#4a1450"/>
<rect x="54.88" y="468.00" width="4.75" height="6.20" fill="#c0102e"/>
<rect x="60.35" y="468.00" width="4.75" height="6.20" fill="#4a1450"/>
<rect x="65.82" y="468.00" width="4.75" height="6.20" fill="#35a3e3"/>
<rect x="71.30" y="468.00" width="4.75" height="6.20" fill="#4a1450"/>
<rect x="76.78" y="468.00" width="4.75" height="6.20" fill="#35a3e3"/>
<rect x="82.25" y="468.00" width="4.75" height="6.20" fill="#35a3e3"/>
<rect x="87.72" y="468.00" width="4.75" height="6.20" fill="#c0102e"/>
<rect x="93.20" y="468.00" width="4.75" height="6.20" fill="#4a1450"/>
<rect x="49.40" y="475.55" width="4.75" height="6.20" fill="#e3147c"/>
<rect x="54.88" y="475.55" width="4.75" height="6.20" fill="#e3147c"/>
<rect x="60.35" y="475.55" width="4.75" height="6.20" fill="#e3147c"/>
<rect x="49.40" y="483.10" width="4.75" height="6.20" fill="#f9b800"/>
<rect x="54.88" y="483.10" width="4.75" height="6.20" fill="#f9b800"/>
<rect x="60.35" y="483.10" width="4.75" height="6.20" fill="#f9b800"/>
<rect x="65.82" y="483.10" width="4.75" height="6.20" fill="#4a1450"/>
<rect x="71.30" y="483.10" width="4.75" height="6.20" fill="#4a1450"/>
<rect x="76.78" y="483.10" width="4.75" height="6.20" fill="#4a1450"/>
<rect x="82.25" y="483.10" width="4.75" height="6.20" fill="#4a1450"/>
<rect x="87.72" y="483.10" width="4.75" height="6.20" fill="#4a1450"/>
<rect x="93.20" y="483.10" width="4.75" height="6.20" fill="#4a1450"/>
<rect x="49.40" y="490.65" width="4.75" height="6.20" fill="#e3147c"/>
<rect x="54.88" y="490.65" width="4.75" height="6.20" fill="#e3147c"/>
<rect x="60.35" y="490.65" width="4.75" height="6.20" fill="#e3147c"/>
<rect x="65.82" y="490.65" width="4.75" height="6.20" fill="#e3147c"/>
<rect x="71.30" y="490.65" width="4.75" height="6.20" fill="#e3147c"/>
<rect x="76.78" y="490.65" width="4.75" height="6.20" fill="#e3147c"/>
<rect x="82.25" y="490.65" width="4.75" height="6.20" fill="#e3147c"/>
<rect x="87.72" y="490.65" width="4.75" height="6.20" fill="#e3147c"/>
<rect x="93.20" y="490.65" width="4.75" height="6.20" fill="#f9b800"/>
<rect x="49.40" y="498.20" width="4.75" height="6.20" fill="#b0601f"/>
<rect x="54.88" y="498.20" width="4.75" height="6.20" fill="#b0601f"/>
<rect x="60.35" y="498.20" width="4.75" height="6.20" fill="#b0601f"/>
<rect x="65.82" y="498.20" width="4.75" height="6.20" fill="#f0f0f0"/>
<rect x="71.30" y="498.20" width="4.75" height="6.20" fill="#f0f0f0"/>
<rect x="76.78" y="498.20" width="4.75" height="6.20" fill="#f0f0f0"/>
<rect x="82.25" y="498.20" width="4.75" height="6.20" fill="#f0f0f0"/>
<rect x="87.72" y="498.20" width="4.75" height="6.20" fill="#f0f0f0"/>
<rect x="93.20" y="498.20" width="4.75" height="6.20" fill="#f0f0f0"/>
<rect x="49.40" y="505.75" width="4.75" height="6.20" fill="#f0f0f0"/>
<rect x="54.88" y="505.75" width="4.75" height="6.20" fill="#f0f0f0"/>
<rect x="60.35" y="505.75" width="4.75" height="6.20" fill="#a9bd86"/>
<rect x="65.82" y="505.75" width="4.75" height="6.20" fill="#a9bd86"/>
<rect x="71.30" y="505.75" width="4.75" height="6.20" fill="#f0f0f0"/>
<rect x="76.78" y="505.75" width="4.75" height="6.20" fill="#f0f0f0"/>
<rect x="82.25" y="505.75" width="4.75" height="6.20" fill="#f0f0f0"/>
<rect x="87.72" y="505.75" width="4.75" height="6.20" fill="#f0f0f0"/>
<rect x="93.20" y="505.75" width="4.75" height="6.20" fill="#f0f0f0"/>
<rect x="49.40" y="513.30" width="4.75" height="6.20" fill="#f0f0f0"/>
<rect x="54.88" y="513.30" width="4.75" height="6.20" fill="#f0f0f0"/>
<rect x="60.35" y="513.30" width="4.75" height="6.20" fill="#f0f0f0"/>
<rect x="65.82" y="513.30" width="4.75" height="6.20" fill="#f0f0f0"/>
<rect x="71.30" y="513.30" width="4.75" height="6.20" fill="#a9bd86"/>
<rect x="76.78" y="513.30" width="4.75" height="6.20" fill="#a9bd86"/>
<rect x="82.25" y="513.30" width="4.75" height="6.20" fill="#f0f0f0"/>
<rect x="87.72" y="513.30" width="4.75" height="6.20" fill="#f0f0f0"/>
<rect x="93.20" y="513.30" width="4.75" height="6.20" fill="#f0f0f0"/>
<rect x="49.40" y="520.85" width="4.75" height="6.20" fill="#f0f0f0"/>
<rect x="54.88" y="520.85" width="4.75" height="6.20" fill="#f0f0f0"/>
<rect x="60.35" y="520.85" width="4.75" height="6.20" fill="#f0f0f0"/>
<rect x="65.82" y="520.85" width="4.75" height="6.20" fill="#f0f0f0"/>
<rect x="71.30" y="520.85" width="4.75" height="6.20" fill="#f0f0f0"/>
<rect x="76.78" y="520.85" width="4.75" height="6.20" fill="#f0f0f0"/>
<rect x="82.25" y="520.85" width="4.75" height="6.20" fill="#a9bd86"/>
<rect x="87.72" y="520.85" width="4.75" height="6.20" fill="#f0f0f0"/>
<rect x="93.20" y="520.85" width="4.75" height="6.20" fill="#f0f0f0"/>
<rect x="49.40" y="528.40" width="4.75" height="6.20" fill="#f0f0f0"/>
<rect x="54.88" y="528.40" width="4.75" height="6.20" fill="#f0f0f0"/>
<rect x="60.35" y="528.40" width="4.75" height="6.20" fill="#f0f0f0"/>
<rect x="65.82" y="528.40" width="4.75" height="6.20" fill="#f0f0f0"/>
<rect x="71.30" y="528.40" width="4.75" height="6.20" fill="#f0f0f0"/>
<rect x="76.78" y="528.40" width="4.75" height="6.20" fill="#f0f0f0"/>
<rect x="82.25" y="528.40" width="4.75" height="6.20" fill="#f0f0f0"/>
<rect x="87.72" y="528.40" width="4.75" height="6.20" fill="#a9bd86"/>
<rect x="93.20" y="528.40" width="4.75" height="6.20" fill="#f0f0f0"/>
<rect x="49.40" y="535.95" width="4.75" height="6.20" fill="#f0f0f0"/>
<rect x="54.88" y="535.95" width="4.75" height="6.20" fill="#f0f0f0"/>
<rect x="60.35" y="535.95" width="4.75" height="6.20" fill="#f0f0f0"/>
<rect x="65.82" y="535.95" width="4.75" height="6.20" fill="#f0f0f0"/>
<rect x="71.30" y="535.95" width="4.75" height="6.20" fill="#f0f0f0"/>
<rect x="76.78" y="535.95" width="4.75" height="6.20" fill="#f0f0f0"/>
<rect x="82.25" y="535.95" width="4.75" height="6.20" fill="#5a3212"/>
<rect x="87.72" y="535.95" width="4.75" height="6.20" fill="#f0f0f0"/>
<rect x="93.20" y="535.95" width="4.75" height="6.20" fill="#f0f0f0"/>
<rect x="49.40" y="543.50" width="4.75" height="6.20" fill="#f0f0f0"/>
<rect x="54.88" y="543.50" width="4.75" height="6.20" fill="#f0f0f0"/>
<rect x="60.35" y="543.50" width="4.75" height="6.20" fill="#f0f0f0"/>
<rect x="65.82" y="543.50" width="4.75" height="6.20" fill="#f0f0f0"/>
<rect x="71.30" y="543.50" width="4.75" height="6.20" fill="#f0f0f0"/>
<rect x="76.78" y="543.50" width="4.75" height="6.20" fill="#f0f0f0"/>
<rect x="82.25" y="543.50" width="4.75" height="6.20" fill="#f0f0f0"/>
<rect x="87.72" y="543.50" width="4.75" height="6.20" fill="#f0f0f0"/>
<rect x="93.20" y="543.50" width="4.75" height="6.20" fill="#5a3212"/>
<text x="45.90" y="473.05" font-size="5.3" text-anchor="end" fill="#1e1e1e">Carriers</text>
<text x="45.90" y="480.60" font-size="5.3" text-anchor="end" fill="#1e1e1e">ClinVar</text>
<text x="45.90" y="488.15" font-size="5.3" text-anchor="end" fill="#1e1e1e">ACMG</text>
<text x="45.90" y="495.70" font-size="5.3" text-anchor="end" fill="#1e1e1e">Priority</text>
<text x="45.90" y="503.25" font-size="5.3" text-anchor="end" fill="#1e1e1e">KLHDC8B (3)</text>
<text x="45.90" y="510.80" font-size="5.3" text-anchor="end" fill="#1e1e1e">GATA3 (2)</text>
<text x="45.90" y="518.35" font-size="5.3" text-anchor="end" fill="#1e1e1e">PAX5 (2)</text>
<text x="45.90" y="525.90" font-size="5.3" text-anchor="end" fill="#1e1e1e">ATF3 (1)</text>
<text x="45.90" y="533.45" font-size="5.3" text-anchor="end" fill="#1e1e1e">IRF8 (1)</text>
<text x="45.90" y="541.00" font-size="5.3" text-anchor="end" fill="#1e1e1e">MYB (1)</text>
<text x="45.90" y="548.55" font-size="5.3" text-anchor="end" fill="#1e1e1e">RUNX3 (1)</text>
<text x="53.62" y="556.60" font-size="5.45" text-anchor="end" fill="#363636" transform="rotate(-90 53.62 556.6)">HL1000063</text>
<text x="59.09" y="556.60" font-size="5.45" text-anchor="end" fill="#363636" transform="rotate(-90 59.095 556.6)">HL4859</text>
<text x="59.09" y="554.30" font-size="4.6" text-anchor="middle" fill="#333" transform="rotate(-90 59.095 554.3)">†</text>
<text x="64.57" y="556.60" font-size="5.45" text-anchor="end" fill="#363636" transform="rotate(-90 64.57 556.6)">HL2491</text>
<text x="70.04" y="556.60" font-size="5.45" text-anchor="end" fill="#363636" transform="rotate(-90 70.04499999999999 556.6)">HL3929</text>
<text x="75.52" y="556.60" font-size="5.45" text-anchor="end" fill="#363636" transform="rotate(-90 75.52 556.6)">HL1000003</text>
<text x="81.00" y="556.60" font-size="5.45" text-anchor="end" fill="#363636" transform="rotate(-90 80.995 556.6)">HL4898</text>
<text x="81.00" y="554.30" font-size="4.6" text-anchor="middle" fill="#333" transform="rotate(-90 80.995 554.3)">†</text>
<text x="86.47" y="556.60" font-size="5.45" text-anchor="end" fill="#363636" transform="rotate(-90 86.47 556.6)">HL1000065</text>
<text x="91.94" y="556.60" font-size="5.45" text-anchor="end" fill="#363636" transform="rotate(-90 91.945 556.6)">HL4643</text>
<text x="97.42" y="556.60" font-size="5.45" text-anchor="end" fill="#363636" transform="rotate(-90 97.41999999999999 556.6)">HL1000064</text>
<text x="133.60" y="488.10" font-size="5.3" text-anchor="end" font-weight="bold" fill="#222">Carriers</text>
<rect x="136.70" y="484.70" width="3.00" height="3.00" fill="#4a1a4a"/>
<text x="142.60" y="488.20" font-size="5.65" text-anchor="start" fill="#444">2</text>
<rect x="152.70" y="484.70" width="3.00" height="3.00" fill="#2d9ed6"/>
<text x="158.60" y="488.20" font-size="5.65" text-anchor="start" fill="#444">3</text>
<rect x="169.40" y="484.70" width="3.00" height="3.00" fill="#c0102e"/>
<text x="175.30" y="488.20" font-size="5.65" text-anchor="start" fill="#444">5</text>
<text x="133.60" y="496.20" font-size="5.3" text-anchor="end" font-weight="bold" fill="#222">ClinVar</text>
<rect x="136.70" y="492.80" width="3.00" height="3.00" fill="#c8106a"/>
<text x="142.60" y="496.30" font-size="5.65" text-anchor="start" fill="#444">P</text>
<text x="133.60" y="504.40" font-size="5.3" text-anchor="end" font-weight="bold" fill="#222">ACMG</text>
<rect x="136.70" y="501.00" width="3.00" height="3.00" fill="#e0b030"/>
<text x="142.60" y="504.50" font-size="5.65" text-anchor="start" fill="#444">LP</text>
<rect x="156.00" y="501.00" width="3.00" height="3.00" fill="#3a1840"/>
<text x="161.90" y="504.50" font-size="5.65" text-anchor="start" fill="#444">VUS</text>
<text x="133.60" y="512.60" font-size="5.3" text-anchor="end" font-weight="bold" fill="#222">Priority</text>
<rect x="136.70" y="509.20" width="3.00" height="3.00" fill="#b0105a"/>
<text x="142.60" y="512.70" font-size="5.65" text-anchor="start" fill="#444">NC1</text>
<rect x="160.80" y="509.20" width="3.00" height="3.00" fill="#e0b030"/>
<text x="166.70" y="512.70" font-size="5.65" text-anchor="start" fill="#444">NC2</text>
<text x="112.70" y="525.90" font-size="5.3" text-anchor="start" font-weight="bold" fill="#222">Variant types</text>
<rect x="112.70" y="530.80" width="3.00" height="3.00" fill="#a8641e"/>
<text x="118.80" y="534.30" font-size="5.65" text-anchor="start" fill="#444">5' UTR</text>
<rect x="112.70" y="538.50" width="3.00" height="3.00" fill="#a0b880"/>
<text x="118.80" y="542.00" font-size="5.65" text-anchor="start" fill="#444">Intronic</text>
<rect x="112.70" y="546.20" width="3.00" height="3.00" fill="#4a2c10"/>
<text x="118.80" y="549.70" font-size="5.65" text-anchor="start" fill="#444">Intergenic</text>
</svg>
</body></html>
